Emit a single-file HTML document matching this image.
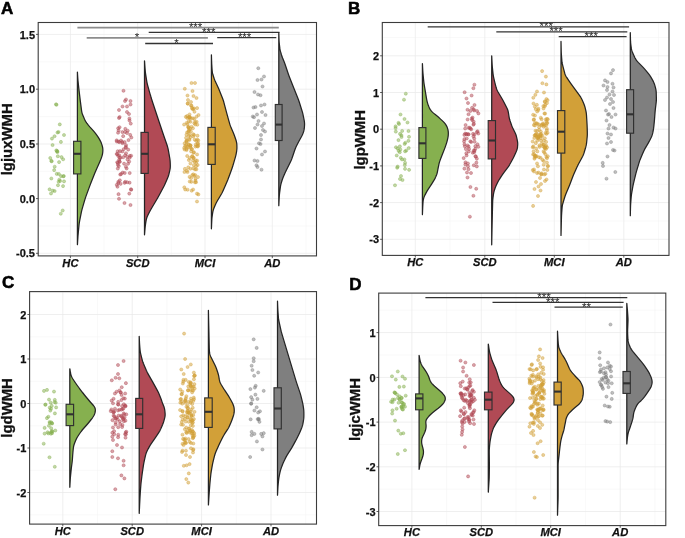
<!DOCTYPE html>
<html><head><meta charset="utf-8"><title>Figure</title>
<style>
html,body{margin:0;padding:0;background:#fff;}
body{width:685px;height:538px;overflow:hidden;font-family:"Liberation Sans",sans-serif;}
svg{display:block;will-change:transform;opacity:0.999;}
text{font-family:"Liberation Sans",sans-serif;font-weight:bold;fill:#111;}
.tk{font-size:11px;stroke:#111;stroke-width:0.25px;}
.cat{font-size:11.2px;font-style:italic;stroke:#111;stroke-width:0.25px;}
.yt{font-size:14.9px;stroke:#111;stroke-width:0.3px;}
.pl{font-size:17px;fill:#000;stroke:#000;stroke-width:0.55px;}
.st{font-weight:normal;font-size:11.5px;fill:#222;}
</style></head><body>
<svg width="685" height="538" viewBox="0 0 685 538">
<rect width="685" height="538" fill="#fff"/>
<g>
<rect x="38.2" y="22.5" width="278.3" height="233.4" fill="#fff"/>
<line x1="38.2" x2="316.5" y1="61.8" y2="61.8" stroke="#f2f2f2" stroke-width="0.5"/>
<line x1="38.2" x2="316.5" y1="116.6" y2="116.6" stroke="#f2f2f2" stroke-width="0.5"/>
<line x1="38.2" x2="316.5" y1="171.3" y2="171.3" stroke="#f2f2f2" stroke-width="0.5"/>
<line x1="38.2" x2="316.5" y1="226" y2="226" stroke="#f2f2f2" stroke-width="0.5"/>
<line x1="104.05" x2="104.05" y1="22.5" y2="255.9" stroke="#f2f2f2" stroke-width="0.5"/>
<line x1="171.35" x2="171.35" y1="22.5" y2="255.9" stroke="#f2f2f2" stroke-width="0.5"/>
<line x1="238.65" x2="238.65" y1="22.5" y2="255.9" stroke="#f2f2f2" stroke-width="0.5"/>
<line x1="305.95" x2="305.95" y1="22.5" y2="255.9" stroke="#f2f2f2" stroke-width="0.5"/>
<line x1="38.2" x2="316.5" y1="34.4" y2="34.4" stroke="#e9e9e9" stroke-width="0.75"/>
<line x1="38.2" x2="316.5" y1="89.2" y2="89.2" stroke="#e9e9e9" stroke-width="0.75"/>
<line x1="38.2" x2="316.5" y1="144" y2="144" stroke="#e9e9e9" stroke-width="0.75"/>
<line x1="38.2" x2="316.5" y1="198.6" y2="198.6" stroke="#e9e9e9" stroke-width="0.75"/>
<line x1="38.2" x2="316.5" y1="253.3" y2="253.3" stroke="#e9e9e9" stroke-width="0.75"/>
<line x1="70.4" x2="70.4" y1="22.5" y2="255.9" stroke="#e9e9e9" stroke-width="0.75"/>
<line x1="137.7" x2="137.7" y1="22.5" y2="255.9" stroke="#e9e9e9" stroke-width="0.75"/>
<line x1="205" x2="205" y1="22.5" y2="255.9" stroke="#e9e9e9" stroke-width="0.75"/>
<line x1="272.3" x2="272.3" y1="22.5" y2="255.9" stroke="#e9e9e9" stroke-width="0.75"/>
<line x1="77.4" x2="278.8" y1="27.6" y2="27.6" stroke="#8c8c8c" stroke-width="1.6"/>
<text x="195.6" y="31.1" text-anchor="middle" class="st">***</text>
<line x1="148.7" x2="279.5" y1="32.4" y2="32.4" stroke="#333333" stroke-width="1.3"/>
<text x="208.7" y="35.9" text-anchor="middle" class="st">***</text>
<line x1="217.2" x2="276.3" y1="37.7" y2="37.7" stroke="#333333" stroke-width="1.3"/>
<text x="244.6" y="41.2" text-anchor="middle" class="st">***</text>
<line x1="86.7" x2="207.9" y1="37.9" y2="37.9" stroke="#8c8c8c" stroke-width="1.6"/>
<text x="137" y="41.4" text-anchor="middle" class="st">*</text>
<line x1="145.2" x2="213" y1="43.5" y2="43.5" stroke="#333333" stroke-width="1.3"/>
<text x="176.5" y="47" text-anchor="middle" class="st">*</text>
<g fill="#86b04f" fill-opacity="0.5" stroke="#86b04f" stroke-opacity="0.7" stroke-width="0.55"><circle cx="56" cy="104.3" r="1.55"/><circle cx="56.5" cy="104.8" r="1.55"/><circle cx="59.8" cy="124.4" r="1.55"/><circle cx="58.5" cy="132" r="1.55"/><circle cx="57.5" cy="132.5" r="1.55"/><circle cx="64" cy="135" r="1.55"/><circle cx="62.7" cy="210.5" r="1.55"/><circle cx="60.8" cy="213.7" r="1.55"/><circle cx="51" cy="193.5" r="1.55"/><circle cx="61.06" cy="176.12" r="1.55"/><circle cx="60.08" cy="180.96" r="1.55"/><circle cx="61.5" cy="157.11" r="1.55"/><circle cx="56.34" cy="150.4" r="1.55"/><circle cx="50.22" cy="157.99" r="1.55"/><circle cx="54.53" cy="136.21" r="1.55"/><circle cx="52.56" cy="145.04" r="1.55"/><circle cx="54.71" cy="166.74" r="1.55"/><circle cx="58.89" cy="173.97" r="1.55"/><circle cx="63.84" cy="176.08" r="1.55"/><circle cx="57.83" cy="156.23" r="1.55"/><circle cx="51.36" cy="178.52" r="1.55"/><circle cx="49.58" cy="189.35" r="1.55"/><circle cx="57.99" cy="185.24" r="1.55"/><circle cx="63.21" cy="176.24" r="1.55"/><circle cx="59.07" cy="162.1" r="1.55"/><circle cx="63.04" cy="186.09" r="1.55"/><circle cx="64.03" cy="181.34" r="1.55"/><circle cx="58.64" cy="181.78" r="1.55"/><circle cx="57.11" cy="151.54" r="1.55"/><circle cx="57.42" cy="152.05" r="1.55"/><circle cx="54.65" cy="191.07" r="1.55"/><circle cx="56.75" cy="173.88" r="1.55"/><circle cx="60.92" cy="141.92" r="1.55"/><circle cx="59.27" cy="179.7" r="1.55"/><circle cx="63.14" cy="159.26" r="1.55"/><circle cx="57.2" cy="151" r="1.55"/><circle cx="51.71" cy="161.3" r="1.55"/><circle cx="51.97" cy="138.6" r="1.55"/><circle cx="51.32" cy="160.91" r="1.55"/><circle cx="52.79" cy="190.66" r="1.55"/><circle cx="54.15" cy="170.12" r="1.55"/></g>
<path d="M77.4 72.1L77.4 72.1L77.48 73.1L77.53 74.1L77.59 75.1L77.65 76.1L77.72 77.1L77.78 78.1L77.86 79.1L77.94 80.1L78.03 81.1L78.13 82.1L78.24 83.1L78.35 84.1L78.45 85.1L78.56 86.1L78.67 87.1L78.78 88.1L78.9 89.1L79.01 90.1L79.13 91.1L79.25 92.1L79.37 93.1L79.49 94.1L79.61 95.1L79.73 96.1L79.85 97.1L79.97 98.1L80.09 99.1L80.21 100.1L80.33 101.1L80.46 102.1L80.59 103.1L80.72 104.1L80.85 105.1L80.98 106.1L81.11 107.1L81.24 108.1L81.37 109.1L81.5 110.1L81.65 111.1L81.83 112.1L82.06 113.1L82.38 114.1L82.75 115.1L83.16 116.1L83.59 117.1L84.02 118.1L84.47 119.1L84.95 120.1L85.5 121.1L86.12 122.1L86.82 123.1L87.57 124.1L88.35 125.1L89.17 126.1L90.03 127.1L90.93 128.1L91.85 129.1L92.76 130.1L93.65 131.1L94.49 132.1L95.28 133.1L96.04 134.1L96.77 135.1L97.48 136.1L98.15 137.1L98.78 138.1L99.36 139.1L99.92 140.1L100.43 141.1L100.9 142.1L101.31 143.1L101.68 144.1L102.02 145.1L102.31 146.1L102.55 147.1L102.72 148.1L102.82 149.1L102.86 150.1L102.83 151.1L102.75 152.1L102.63 153.1L102.46 154.1L102.24 155.1L101.96 156.1L101.64 157.1L101.3 158.1L100.93 159.1L100.54 160.1L100.13 161.1L99.7 162.1L99.27 163.1L98.82 164.1L98.38 165.1L97.93 166.1L97.49 167.1L97.04 168.1L96.6 169.1L96.16 170.1L95.72 171.1L95.28 172.1L94.86 173.1L94.45 174.1L94.05 175.1L93.65 176.1L93.25 177.1L92.86 178.1L92.46 179.1L92.06 180.1L91.67 181.1L91.27 182.1L90.87 183.1L90.48 184.1L90.1 185.1L89.71 186.1L89.34 187.1L88.97 188.1L88.6 189.1L88.23 190.1L87.87 191.1L87.5 192.1L87.13 193.1L86.76 194.1L86.4 195.1L86.03 196.1L85.68 197.1L85.35 198.1L85.03 199.1L84.73 200.1L84.43 201.1L84.14 202.1L83.84 203.1L83.55 204.1L83.26 205.1L82.96 206.1L82.67 207.1L82.38 208.1L82.1 209.1L81.84 210.1L81.59 211.1L81.37 212.1L81.17 213.1L80.97 214.1L80.77 215.1L80.57 216.1L80.37 217.1L80.17 218.1L79.97 219.1L79.78 220.1L79.59 221.1L79.41 222.1L79.25 223.1L79.12 224.1L79.01 225.1L78.9 226.1L78.81 227.1L78.71 228.1L78.61 229.1L78.52 230.1L78.42 231.1L78.33 232.1L78.23 233.1L78.14 234.1L78.05 235.1L77.97 236.1L77.9 237.1L77.84 238.1L77.77 239.1L77.71 240.1L77.65 241.1L77.58 242.1L77.53 243.1L77.47 244.1L77.4 244.6L77.4 244.6Z" fill="#86b04f" stroke="#242424" stroke-width="1.25" stroke-linejoin="round"/>
<rect x="73.6" y="141.3" width="7.3" height="32.6" fill="#86b04f" stroke="#303030" stroke-width="1.15"/>
<line x1="73.6" x2="80.9" y1="153.8" y2="153.8" stroke="#303030" stroke-width="2.1"/>
<g fill="#b14a55" fill-opacity="0.5" stroke="#b14a55" stroke-opacity="0.7" stroke-width="0.55"><circle cx="123.5" cy="90.8" r="1.55"/><circle cx="126" cy="99.5" r="1.55"/><circle cx="125" cy="101" r="1.55"/><circle cx="130.5" cy="101" r="1.55"/><circle cx="122.5" cy="106.5" r="1.55"/><circle cx="127" cy="106.5" r="1.55"/><circle cx="130.5" cy="104.5" r="1.55"/><circle cx="119" cy="110" r="1.55"/><circle cx="127" cy="112" r="1.55"/><circle cx="129" cy="114" r="1.55"/><circle cx="119" cy="118" r="1.55"/><circle cx="129.5" cy="120.5" r="1.55"/><circle cx="119" cy="198.8" r="1.55"/><circle cx="124.5" cy="203" r="1.55"/><circle cx="130.5" cy="205" r="1.55"/><circle cx="127.73" cy="130.7" r="1.55"/><circle cx="125.02" cy="131.98" r="1.55"/><circle cx="118.21" cy="155.93" r="1.55"/><circle cx="119.39" cy="161.57" r="1.55"/><circle cx="119.64" cy="117.03" r="1.55"/><circle cx="122.35" cy="151.44" r="1.55"/><circle cx="127.2" cy="182.23" r="1.55"/><circle cx="125.78" cy="147.77" r="1.55"/><circle cx="124.68" cy="142.1" r="1.55"/><circle cx="127.01" cy="133.04" r="1.55"/><circle cx="129.59" cy="182.67" r="1.55"/><circle cx="120.23" cy="174.53" r="1.55"/><circle cx="117.92" cy="163.04" r="1.55"/><circle cx="118.35" cy="181.74" r="1.55"/><circle cx="117.5" cy="186.69" r="1.55"/><circle cx="124.61" cy="182.85" r="1.55"/><circle cx="123.61" cy="149.2" r="1.55"/><circle cx="119.41" cy="142.12" r="1.55"/><circle cx="125.2" cy="181.8" r="1.55"/><circle cx="119.63" cy="157.89" r="1.55"/><circle cx="122.69" cy="172.57" r="1.55"/><circle cx="131.21" cy="189.79" r="1.55"/><circle cx="122.51" cy="143.13" r="1.55"/><circle cx="119.36" cy="155.31" r="1.55"/><circle cx="120.57" cy="183.87" r="1.55"/><circle cx="120.57" cy="157.69" r="1.55"/><circle cx="131.38" cy="137.5" r="1.55"/><circle cx="116.65" cy="140.37" r="1.55"/><circle cx="117.7" cy="151.22" r="1.55"/><circle cx="125.9" cy="146.92" r="1.55"/><circle cx="129.3" cy="193.62" r="1.55"/><circle cx="126.61" cy="168.47" r="1.55"/><circle cx="123.16" cy="136.13" r="1.55"/><circle cx="131.15" cy="155.73" r="1.55"/><circle cx="116.84" cy="141.56" r="1.55"/><circle cx="128.51" cy="140.09" r="1.55"/><circle cx="118.65" cy="141.67" r="1.55"/><circle cx="127.53" cy="159.62" r="1.55"/><circle cx="127.05" cy="156.68" r="1.55"/><circle cx="122.23" cy="141.92" r="1.55"/><circle cx="123.2" cy="157.26" r="1.55"/><circle cx="129.14" cy="161.59" r="1.55"/><circle cx="124.74" cy="172.98" r="1.55"/><circle cx="125.99" cy="153.25" r="1.55"/><circle cx="118.54" cy="194.13" r="1.55"/><circle cx="118.17" cy="128.3" r="1.55"/><circle cx="121.01" cy="140.54" r="1.55"/><circle cx="119.85" cy="180.33" r="1.55"/><circle cx="122.4" cy="132.09" r="1.55"/><circle cx="129.41" cy="118.58" r="1.55"/><circle cx="117.81" cy="168.55" r="1.55"/><circle cx="116.8" cy="184.87" r="1.55"/><circle cx="118.81" cy="166.11" r="1.55"/><circle cx="125.88" cy="166.79" r="1.55"/><circle cx="117.93" cy="164.93" r="1.55"/><circle cx="118.61" cy="130.48" r="1.55"/><circle cx="119.05" cy="159.94" r="1.55"/><circle cx="130.75" cy="123.61" r="1.55"/><circle cx="129.83" cy="155.88" r="1.55"/><circle cx="118.06" cy="132.69" r="1.55"/><circle cx="118.24" cy="183.1" r="1.55"/><circle cx="130.22" cy="134.92" r="1.55"/><circle cx="128.2" cy="149.62" r="1.55"/><circle cx="116.71" cy="153.98" r="1.55"/><circle cx="124.1" cy="163.66" r="1.55"/><circle cx="125.96" cy="145.17" r="1.55"/><circle cx="117.28" cy="154.01" r="1.55"/><circle cx="119.55" cy="127.21" r="1.55"/><circle cx="117.21" cy="162.27" r="1.55"/><circle cx="125.32" cy="128.89" r="1.55"/><circle cx="130.94" cy="189.2" r="1.55"/><circle cx="128.01" cy="163.82" r="1.55"/><circle cx="125.18" cy="155.22" r="1.55"/><circle cx="119.99" cy="151.16" r="1.55"/><circle cx="119.84" cy="161.84" r="1.55"/><circle cx="129.7" cy="157.67" r="1.55"/><circle cx="121.1" cy="174" r="1.55"/><circle cx="129.72" cy="173.04" r="1.55"/></g>
<path d="M144.5 60.8L144.5 60.8L144.59 61.8L144.65 62.8L144.72 63.8L144.79 64.8L144.86 65.8L144.93 66.8L145 67.8L145.07 68.8L145.15 69.8L145.23 70.8L145.33 71.8L145.45 72.8L145.59 73.8L145.74 74.8L145.89 75.8L146.05 76.8L146.2 77.8L146.36 78.8L146.52 79.8L146.68 80.8L146.86 81.8L147.05 82.8L147.28 83.8L147.53 84.8L147.8 85.8L148.07 86.8L148.35 87.8L148.62 88.8L148.9 89.8L149.17 90.8L149.46 91.8L149.74 92.8L150.03 93.8L150.32 94.8L150.62 95.8L150.91 96.8L151.21 97.8L151.5 98.8L151.81 99.8L152.12 100.8L152.44 101.8L152.76 102.8L153.09 103.8L153.43 104.8L153.76 105.8L154.09 106.8L154.42 107.8L154.75 108.8L155.08 109.8L155.41 110.8L155.75 111.8L156.08 112.8L156.41 113.8L156.74 114.8L157.07 115.8L157.4 116.8L157.74 117.8L158.07 118.8L158.4 119.8L158.74 120.8L159.07 121.8L159.41 122.8L159.75 123.8L160.08 124.8L160.42 125.8L160.75 126.8L161.09 127.8L161.42 128.8L161.76 129.8L162.09 130.8L162.43 131.8L162.77 132.8L163.1 133.8L163.45 134.8L163.79 135.8L164.14 136.8L164.48 137.8L164.83 138.8L165.18 139.8L165.53 140.8L165.88 141.8L166.23 142.8L166.57 143.8L166.92 144.8L167.25 145.8L167.57 146.8L167.84 147.8L168.08 148.8L168.28 149.8L168.47 150.8L168.64 151.8L168.82 152.8L169 153.8L169.18 154.8L169.35 155.8L169.53 156.8L169.7 157.8L169.86 158.8L169.99 159.8L170.09 160.8L170.16 161.8L170.21 162.8L170.25 163.8L170.28 164.8L170.3 165.8L170.29 166.8L170.22 167.8L170.09 168.8L169.9 169.8L169.69 170.8L169.46 171.8L169.23 172.8L168.99 173.8L168.73 174.8L168.44 175.8L168.09 176.8L167.7 177.8L167.29 178.8L166.86 179.8L166.44 180.8L166 181.8L165.57 182.8L165.13 183.8L164.67 184.8L164.19 185.8L163.68 186.8L163.16 187.8L162.62 188.8L162.09 189.8L161.55 190.8L161.02 191.8L160.48 192.8L159.94 193.8L159.41 194.8L158.87 195.8L158.32 196.8L157.76 197.8L157.19 198.8L156.6 199.8L156.01 200.8L155.42 201.8L154.82 202.8L154.23 203.8L153.63 204.8L153.04 205.8L152.44 206.8L151.85 207.8L151.27 208.8L150.69 209.8L150.14 210.8L149.62 211.8L149.1 212.8L148.6 213.8L148.1 214.8L147.62 215.8L147.17 216.8L146.79 217.8L146.48 218.8L146.25 219.8L146.06 220.8L145.89 221.8L145.73 222.8L145.58 223.8L145.44 224.8L145.31 225.8L145.2 226.8L145.11 227.8L145.02 228.8L144.94 229.8L144.85 230.8L144.77 231.8L144.69 232.8L144.62 233.8L144.5 234.8L144.5 234.8Z" fill="#b14a55" stroke="#242424" stroke-width="1.25" stroke-linejoin="round"/>
<rect x="141" y="132.4" width="7.2" height="41" fill="#b14a55" stroke="#303030" stroke-width="1.15"/>
<line x1="141" x2="148.2" y1="153.8" y2="153.8" stroke="#303030" stroke-width="2.1"/>
<g fill="#d2a038" fill-opacity="0.5" stroke="#d2a038" stroke-opacity="0.7" stroke-width="0.55"><circle cx="191.5" cy="83" r="1.55"/><circle cx="195" cy="83" r="1.55"/><circle cx="184.8" cy="88.8" r="1.55"/><circle cx="192.5" cy="91" r="1.55"/><circle cx="187.5" cy="95.5" r="1.55"/><circle cx="193.5" cy="96" r="1.55"/><circle cx="196.5" cy="98" r="1.55"/><circle cx="188" cy="100" r="1.55"/><circle cx="191" cy="102" r="1.55"/><circle cx="197" cy="201.5" r="1.55"/><circle cx="186.78" cy="122.82" r="1.55"/><circle cx="195.11" cy="169.39" r="1.55"/><circle cx="192.98" cy="160.49" r="1.55"/><circle cx="185.19" cy="189.51" r="1.55"/><circle cx="188.57" cy="127.21" r="1.55"/><circle cx="193.66" cy="152.79" r="1.55"/><circle cx="190.43" cy="168.69" r="1.55"/><circle cx="197.18" cy="146.22" r="1.55"/><circle cx="186.35" cy="140.63" r="1.55"/><circle cx="184.61" cy="143.33" r="1.55"/><circle cx="184.11" cy="124.56" r="1.55"/><circle cx="189.53" cy="114.43" r="1.55"/><circle cx="186.82" cy="146.56" r="1.55"/><circle cx="187.15" cy="155.99" r="1.55"/><circle cx="188.26" cy="167.37" r="1.55"/><circle cx="187.77" cy="103.66" r="1.55"/><circle cx="196.42" cy="169.25" r="1.55"/><circle cx="186.55" cy="150.06" r="1.55"/><circle cx="189.11" cy="139.04" r="1.55"/><circle cx="186.46" cy="134.73" r="1.55"/><circle cx="195.22" cy="124.53" r="1.55"/><circle cx="191.51" cy="126.73" r="1.55"/><circle cx="196.16" cy="140.86" r="1.55"/><circle cx="184.57" cy="149.55" r="1.55"/><circle cx="195.46" cy="146.61" r="1.55"/><circle cx="187.74" cy="103.43" r="1.55"/><circle cx="194.45" cy="111.78" r="1.55"/><circle cx="188.18" cy="126.75" r="1.55"/><circle cx="197.32" cy="124.73" r="1.55"/><circle cx="194.7" cy="161.93" r="1.55"/><circle cx="192.96" cy="118.31" r="1.55"/><circle cx="187.58" cy="189.69" r="1.55"/><circle cx="187.07" cy="132.4" r="1.55"/><circle cx="185.12" cy="146.08" r="1.55"/><circle cx="196.03" cy="182.25" r="1.55"/><circle cx="196.1" cy="166.15" r="1.55"/><circle cx="188.86" cy="160.04" r="1.55"/><circle cx="190.9" cy="131.46" r="1.55"/><circle cx="194" cy="108.34" r="1.55"/><circle cx="191.38" cy="181.83" r="1.55"/><circle cx="196.49" cy="116.69" r="1.55"/><circle cx="198.2" cy="145.28" r="1.55"/><circle cx="189.85" cy="116.95" r="1.55"/><circle cx="197.67" cy="165.01" r="1.55"/><circle cx="194.09" cy="134.99" r="1.55"/><circle cx="193.1" cy="189.52" r="1.55"/><circle cx="198" cy="177.05" r="1.55"/><circle cx="195.16" cy="122" r="1.55"/><circle cx="192.02" cy="149.16" r="1.55"/><circle cx="193.92" cy="152.17" r="1.55"/><circle cx="197.19" cy="139.63" r="1.55"/><circle cx="191.11" cy="151.4" r="1.55"/><circle cx="193.47" cy="157.92" r="1.55"/><circle cx="188.91" cy="121.01" r="1.55"/><circle cx="194.3" cy="118.93" r="1.55"/><circle cx="189.73" cy="181.55" r="1.55"/><circle cx="198.05" cy="143.35" r="1.55"/><circle cx="196.17" cy="162.98" r="1.55"/><circle cx="195.46" cy="180.65" r="1.55"/><circle cx="190.52" cy="145.38" r="1.55"/><circle cx="190.14" cy="147.65" r="1.55"/><circle cx="190.53" cy="145.64" r="1.55"/><circle cx="186.87" cy="141.06" r="1.55"/><circle cx="190.49" cy="121.8" r="1.55"/><circle cx="196.68" cy="121.86" r="1.55"/><circle cx="190.86" cy="118.23" r="1.55"/><circle cx="189.65" cy="157.97" r="1.55"/><circle cx="184.36" cy="187.31" r="1.55"/><circle cx="193.27" cy="134.18" r="1.55"/><circle cx="197.1" cy="154.47" r="1.55"/><circle cx="186.07" cy="137.85" r="1.55"/><circle cx="187.48" cy="172.07" r="1.55"/><circle cx="188.48" cy="127.76" r="1.55"/><circle cx="191.6" cy="149.06" r="1.55"/><circle cx="194.31" cy="123.22" r="1.55"/><circle cx="193.82" cy="165.2" r="1.55"/><circle cx="195.28" cy="175.09" r="1.55"/><circle cx="184.47" cy="172" r="1.55"/><circle cx="190.21" cy="145.88" r="1.55"/><circle cx="189.54" cy="139.91" r="1.55"/><circle cx="193.72" cy="157.7" r="1.55"/><circle cx="187.87" cy="147.5" r="1.55"/><circle cx="192.93" cy="128.25" r="1.55"/><circle cx="197.56" cy="143.86" r="1.55"/><circle cx="197.89" cy="146.47" r="1.55"/><circle cx="189.08" cy="117.33" r="1.55"/><circle cx="198.28" cy="140.42" r="1.55"/><circle cx="189.61" cy="176.92" r="1.55"/><circle cx="193.23" cy="136.47" r="1.55"/><circle cx="195" cy="182.31" r="1.55"/><circle cx="189.97" cy="134.71" r="1.55"/><circle cx="191.17" cy="178.05" r="1.55"/><circle cx="184.16" cy="147.92" r="1.55"/><circle cx="189.68" cy="117.76" r="1.55"/><circle cx="187.04" cy="116.01" r="1.55"/><circle cx="186.34" cy="141.85" r="1.55"/><circle cx="191.65" cy="190.69" r="1.55"/><circle cx="195.83" cy="160.41" r="1.55"/><circle cx="195.52" cy="178.81" r="1.55"/><circle cx="197.09" cy="108.08" r="1.55"/><circle cx="196.99" cy="193.64" r="1.55"/><circle cx="189.05" cy="117.39" r="1.55"/><circle cx="195.79" cy="144.61" r="1.55"/><circle cx="192.33" cy="175.04" r="1.55"/><circle cx="191.51" cy="105.67" r="1.55"/><circle cx="193.35" cy="168.4" r="1.55"/><circle cx="197.54" cy="135.66" r="1.55"/><circle cx="188.5" cy="144.3" r="1.55"/><circle cx="190.41" cy="163.44" r="1.55"/><circle cx="187.51" cy="124.16" r="1.55"/><circle cx="186.12" cy="144.96" r="1.55"/><circle cx="189.11" cy="129.7" r="1.55"/><circle cx="186.5" cy="149.03" r="1.55"/><circle cx="187.33" cy="118.01" r="1.55"/><circle cx="198.49" cy="115.03" r="1.55"/><circle cx="188.35" cy="132.03" r="1.55"/><circle cx="192.39" cy="108.88" r="1.55"/><circle cx="188.91" cy="130.92" r="1.55"/><circle cx="192.13" cy="156.64" r="1.55"/><circle cx="190.99" cy="105.48" r="1.55"/><circle cx="194.65" cy="139.63" r="1.55"/><circle cx="194.29" cy="176.05" r="1.55"/><circle cx="198.38" cy="194.38" r="1.55"/><circle cx="188.76" cy="144.46" r="1.55"/><circle cx="190.17" cy="128.79" r="1.55"/><circle cx="185.81" cy="116.87" r="1.55"/><circle cx="186.9" cy="170.65" r="1.55"/><circle cx="184.89" cy="168.9" r="1.55"/><circle cx="190.59" cy="137.09" r="1.55"/><circle cx="193.26" cy="109.11" r="1.55"/><circle cx="188.86" cy="135.74" r="1.55"/><circle cx="193.34" cy="174.32" r="1.55"/><circle cx="191.96" cy="107.91" r="1.55"/><circle cx="192.24" cy="156.17" r="1.55"/><circle cx="197.18" cy="160.69" r="1.55"/></g>
<path d="M211.4 54.8L211.4 54.8L211.44 55.8L211.47 56.8L211.5 57.8L211.53 58.8L211.56 59.8L211.6 60.8L211.63 61.8L211.67 62.8L211.71 63.8L211.77 64.8L211.83 65.8L211.89 66.8L211.96 67.8L212.02 68.8L212.1 69.8L212.18 70.8L212.29 71.8L212.44 72.8L212.67 73.8L212.94 74.8L213.25 75.8L213.57 76.8L213.9 77.8L214.24 78.8L214.62 79.8L215.03 80.8L215.47 81.8L215.93 82.8L216.41 83.8L216.88 84.8L217.35 85.8L217.81 86.8L218.26 87.8L218.7 88.8L219.11 89.8L219.52 90.8L219.92 91.8L220.32 92.8L220.72 93.8L221.12 94.8L221.52 95.8L221.92 96.8L222.32 97.8L222.7 98.8L223.07 99.8L223.41 100.8L223.72 101.8L224 102.8L224.27 103.8L224.53 104.8L224.8 105.8L225.06 106.8L225.33 107.8L225.59 108.8L225.86 109.8L226.12 110.8L226.39 111.8L226.65 112.8L226.93 113.8L227.2 114.8L227.48 115.8L227.76 116.8L228.03 117.8L228.31 118.8L228.59 119.8L228.87 120.8L229.15 121.8L229.43 122.8L229.72 123.8L230.03 124.8L230.37 125.8L230.75 126.8L231.16 127.8L231.58 128.8L232.01 129.8L232.44 130.8L232.87 131.8L233.3 132.8L233.71 133.8L234.1 134.8L234.47 135.8L234.83 136.8L235.17 137.8L235.52 138.8L235.86 139.8L236.17 140.8L236.45 141.8L236.65 142.8L236.78 143.8L236.85 144.8L236.9 145.8L236.92 146.8L236.92 147.8L236.89 148.8L236.8 149.8L236.68 150.8L236.53 151.8L236.36 152.8L236.17 153.8L235.97 154.8L235.73 155.8L235.46 156.8L235.18 157.8L234.89 158.8L234.6 159.8L234.31 160.8L234.02 161.8L233.73 162.8L233.44 163.8L233.14 164.8L232.85 165.8L232.54 166.8L232.22 167.8L231.88 168.8L231.52 169.8L231.16 170.8L230.79 171.8L230.42 172.8L230.06 173.8L229.69 174.8L229.32 175.8L228.95 176.8L228.58 177.8L228.2 178.8L227.82 179.8L227.41 180.8L226.99 181.8L226.56 182.8L226.13 183.8L225.69 184.8L225.26 185.8L224.82 186.8L224.38 187.8L223.95 188.8L223.51 189.8L223.06 190.8L222.59 191.8L222.1 192.8L221.56 193.8L220.99 194.8L220.4 195.8L219.8 196.8L219.2 197.8L218.6 198.8L218 199.8L217.41 200.8L216.85 201.8L216.31 202.8L215.82 203.8L215.37 204.8L214.94 205.8L214.52 206.8L214.1 207.8L213.71 208.8L213.36 209.8L213.07 210.8L212.84 211.8L212.67 212.8L212.51 213.8L212.36 214.8L212.22 215.8L212.09 216.8L211.98 217.8L211.9 218.8L211.83 219.8L211.78 220.8L211.73 221.8L211.69 222.8L211.64 223.8L211.6 224.8L211.55 225.8L211.51 226.8L211.47 227.8L211.4 228.8L211.4 228.8Z" fill="#d2a038" stroke="#242424" stroke-width="1.25" stroke-linejoin="round"/>
<rect x="207.9" y="127.4" width="7.3" height="37" fill="#d2a038" stroke="#303030" stroke-width="1.15"/>
<line x1="207.9" x2="215.2" y1="144.3" y2="144.3" stroke="#303030" stroke-width="2.1"/>
<g fill="#7f7f7f" fill-opacity="0.5" stroke="#7f7f7f" stroke-opacity="0.7" stroke-width="0.55"><circle cx="258.3" cy="68.2" r="1.55"/><circle cx="264" cy="76.5" r="1.55"/><circle cx="257.5" cy="80" r="1.55"/><circle cx="261.5" cy="79.5" r="1.55"/><circle cx="262.5" cy="86.5" r="1.55"/><circle cx="254.5" cy="92" r="1.55"/><circle cx="258" cy="94.5" r="1.55"/><circle cx="260.5" cy="95.2" r="1.55"/><circle cx="264.5" cy="104.5" r="1.55"/><circle cx="261" cy="105.5" r="1.55"/><circle cx="255.5" cy="107" r="1.55"/><circle cx="253.5" cy="107.5" r="1.55"/><circle cx="257" cy="114.5" r="1.55"/><circle cx="252.8" cy="116.5" r="1.55"/><circle cx="254" cy="117.2" r="1.55"/><circle cx="265.5" cy="115" r="1.55"/><circle cx="264" cy="123.5" r="1.55"/><circle cx="257.5" cy="124.5" r="1.55"/><circle cx="262" cy="126" r="1.55"/><circle cx="255" cy="128" r="1.55"/><circle cx="263" cy="130" r="1.55"/><circle cx="265" cy="131.5" r="1.55"/><circle cx="261" cy="135" r="1.55"/><circle cx="259" cy="143.3" r="1.55"/><circle cx="260.5" cy="144" r="1.55"/><circle cx="265" cy="151.5" r="1.55"/><circle cx="262" cy="154.5" r="1.55"/><circle cx="254.5" cy="160.5" r="1.55"/><circle cx="257.5" cy="161" r="1.55"/><circle cx="256.5" cy="165.3" r="1.55"/><circle cx="261.5" cy="169.7" r="1.55"/><circle cx="257.5" cy="167" r="1.55"/><circle cx="262" cy="112" r="1.55"/><circle cx="258.5" cy="121" r="1.55"/><circle cx="261" cy="139.5" r="1.55"/><circle cx="256.5" cy="148.5" r="1.55"/></g>
<path d="M278.8 32.7L278.8 32.7L278.84 33.7L278.87 34.7L278.9 35.7L278.93 36.7L278.96 37.7L278.99 38.7L279.03 39.7L279.07 40.7L279.13 41.7L279.22 42.7L279.32 43.7L279.43 44.7L279.55 45.7L279.67 46.7L279.79 47.7L279.93 48.7L280.1 49.7L280.3 50.7L280.55 51.7L280.83 52.7L281.12 53.7L281.43 54.7L281.77 55.7L282.13 56.7L282.51 57.7L282.92 58.7L283.32 59.7L283.73 60.7L284.13 61.7L284.51 62.7L284.88 63.7L285.23 64.7L285.56 65.7L285.9 66.7L286.23 67.7L286.57 68.7L286.9 69.7L287.23 70.7L287.57 71.7L287.9 72.7L288.24 73.7L288.59 74.7L288.95 75.7L289.33 76.7L289.72 77.7L290.11 78.7L290.51 79.7L290.9 80.7L291.3 81.7L291.7 82.7L292.09 83.7L292.49 84.7L292.89 85.7L293.28 86.7L293.68 87.7L294.08 88.7L294.48 89.7L294.88 90.7L295.28 91.7L295.68 92.7L296.08 93.7L296.48 94.7L296.88 95.7L297.28 96.7L297.68 97.7L298.07 98.7L298.45 99.7L298.81 100.7L299.16 101.7L299.48 102.7L299.8 103.7L300.11 104.7L300.42 105.7L300.73 106.7L301.05 107.7L301.36 108.7L301.67 109.7L301.98 110.7L302.27 111.7L302.55 112.7L302.8 113.7L303.03 114.7L303.24 115.7L303.44 116.7L303.64 117.7L303.84 118.7L304.04 119.7L304.23 120.7L304.39 121.7L304.5 122.7L304.55 123.7L304.55 124.7L304.5 125.7L304.43 126.7L304.35 127.7L304.24 128.7L304.08 129.7L303.85 130.7L303.55 131.7L303.21 132.7L302.83 133.7L302.4 134.7L301.93 135.7L301.41 136.7L300.86 137.7L300.3 138.7L299.75 139.7L299.2 140.7L298.66 141.7L298.13 142.7L297.61 143.7L297.1 144.7L296.6 145.7L296.11 146.7L295.67 147.7L295.27 148.7L294.9 149.7L294.55 150.7L294.21 151.7L293.87 152.7L293.53 153.7L293.2 154.7L292.86 155.7L292.52 156.7L292.17 157.7L291.81 158.7L291.42 159.7L291 160.7L290.54 161.7L290.06 162.7L289.56 163.7L289.07 164.7L288.57 165.7L288.08 166.7L287.58 167.7L287.08 168.7L286.59 169.7L286.1 170.7L285.61 171.7L285.14 172.7L284.69 173.7L284.25 174.7L283.82 175.7L283.39 176.7L282.98 177.7L282.6 178.7L282.25 179.7L281.93 180.7L281.63 181.7L281.35 182.7L281.08 183.7L280.83 184.7L280.62 185.7L280.44 186.7L280.3 187.7L280.16 188.7L280.03 189.7L279.9 190.7L279.77 191.7L279.64 192.7L279.52 193.7L279.41 194.7L279.32 195.7L279.25 196.7L279.19 197.7L279.14 198.7L279.1 199.7L279.05 200.7L279 201.7L278.96 202.7L278.91 203.7L278.87 204.7L278.8 205.7L278.8 205.7Z" fill="#7f7f7f" stroke="#242424" stroke-width="1.25" stroke-linejoin="round"/>
<rect x="275.3" y="104.5" width="6.8" height="36" fill="#7f7f7f" stroke="#303030" stroke-width="1.15"/>
<line x1="275.3" x2="282.1" y1="124.6" y2="124.6" stroke="#303030" stroke-width="2.1"/>
<rect x="38.2" y="22.5" width="278.3" height="233.4" fill="none" stroke="#3c3c3c" stroke-width="1.1"/>
<line x1="36" x2="38.2" y1="34.4" y2="34.4" stroke="#333" stroke-width="0.8"/>
<text x="35" y="38.5" text-anchor="end" class="tk">1.5</text>
<line x1="36" x2="38.2" y1="89.2" y2="89.2" stroke="#333" stroke-width="0.8"/>
<text x="35" y="93.3" text-anchor="end" class="tk">1.0</text>
<line x1="36" x2="38.2" y1="144" y2="144" stroke="#333" stroke-width="0.8"/>
<text x="35" y="148.1" text-anchor="end" class="tk">0.5</text>
<line x1="36" x2="38.2" y1="198.6" y2="198.6" stroke="#333" stroke-width="0.8"/>
<text x="35" y="202.7" text-anchor="end" class="tk">0.0</text>
<line x1="36" x2="38.2" y1="253.3" y2="253.3" stroke="#333" stroke-width="0.8"/>
<text x="35" y="257.4" text-anchor="end" class="tk">-0.5</text>
<line x1="70.4" x2="70.4" y1="255.9" y2="258.1" stroke="#333" stroke-width="0.8"/>
<text x="70.4" y="266.7" text-anchor="middle" class="cat">HC</text>
<line x1="137.7" x2="137.7" y1="255.9" y2="258.1" stroke="#333" stroke-width="0.8"/>
<text x="137.7" y="266.7" text-anchor="middle" class="cat">SCD</text>
<line x1="205" x2="205" y1="255.9" y2="258.1" stroke="#333" stroke-width="0.8"/>
<text x="205" y="266.7" text-anchor="middle" class="cat">MCI</text>
<line x1="272.3" x2="272.3" y1="255.9" y2="258.1" stroke="#333" stroke-width="0.8"/>
<text x="272.3" y="266.7" text-anchor="middle" class="cat">AD</text>
<text transform="translate(12 139.3) rotate(-90)" text-anchor="middle" class="yt">lgjuxWMH</text>
<text x="0.9" y="13.7" class="pl">A</text>
</g>
<g>
<rect x="382.3" y="22.5" width="286.7" height="232.9" fill="#fff"/>
<line x1="382.3" x2="669" y1="37.5" y2="37.5" stroke="#f2f2f2" stroke-width="0.5"/>
<line x1="382.3" x2="669" y1="74.2" y2="74.2" stroke="#f2f2f2" stroke-width="0.5"/>
<line x1="382.3" x2="669" y1="110.9" y2="110.9" stroke="#f2f2f2" stroke-width="0.5"/>
<line x1="382.3" x2="669" y1="147.6" y2="147.6" stroke="#f2f2f2" stroke-width="0.5"/>
<line x1="382.3" x2="669" y1="184.3" y2="184.3" stroke="#f2f2f2" stroke-width="0.5"/>
<line x1="382.3" x2="669" y1="221" y2="221" stroke="#f2f2f2" stroke-width="0.5"/>
<line x1="450.05" x2="450.05" y1="22.5" y2="255.4" stroke="#f2f2f2" stroke-width="0.5"/>
<line x1="519.55" x2="519.55" y1="22.5" y2="255.4" stroke="#f2f2f2" stroke-width="0.5"/>
<line x1="589.05" x2="589.05" y1="22.5" y2="255.4" stroke="#f2f2f2" stroke-width="0.5"/>
<line x1="658.55" x2="658.55" y1="22.5" y2="255.4" stroke="#f2f2f2" stroke-width="0.5"/>
<line x1="382.3" x2="669" y1="55.8" y2="55.8" stroke="#e9e9e9" stroke-width="0.75"/>
<line x1="382.3" x2="669" y1="92.5" y2="92.5" stroke="#e9e9e9" stroke-width="0.75"/>
<line x1="382.3" x2="669" y1="129.2" y2="129.2" stroke="#e9e9e9" stroke-width="0.75"/>
<line x1="382.3" x2="669" y1="165.9" y2="165.9" stroke="#e9e9e9" stroke-width="0.75"/>
<line x1="382.3" x2="669" y1="202.6" y2="202.6" stroke="#e9e9e9" stroke-width="0.75"/>
<line x1="382.3" x2="669" y1="239.3" y2="239.3" stroke="#e9e9e9" stroke-width="0.75"/>
<line x1="415.3" x2="415.3" y1="22.5" y2="255.4" stroke="#e9e9e9" stroke-width="0.75"/>
<line x1="484.8" x2="484.8" y1="22.5" y2="255.4" stroke="#e9e9e9" stroke-width="0.75"/>
<line x1="554.3" x2="554.3" y1="22.5" y2="255.4" stroke="#e9e9e9" stroke-width="0.75"/>
<line x1="623.8" x2="623.8" y1="22.5" y2="255.4" stroke="#e9e9e9" stroke-width="0.75"/>
<line x1="427.7" x2="629.1" y1="26.9" y2="26.9" stroke="#333333" stroke-width="1.3"/>
<text x="546.3" y="30.4" text-anchor="middle" class="st">***</text>
<line x1="496.3" x2="627.3" y1="31.9" y2="31.9" stroke="#333333" stroke-width="1.3"/>
<text x="556.1" y="35.4" text-anchor="middle" class="st">***</text>
<line x1="558.7" x2="626.6" y1="36.7" y2="36.7" stroke="#333333" stroke-width="1.3"/>
<text x="591.2" y="40.2" text-anchor="middle" class="st">***</text>
<g fill="#86b04f" fill-opacity="0.5" stroke="#86b04f" stroke-opacity="0.7" stroke-width="0.55"><circle cx="405.8" cy="93.7" r="1.55"/><circle cx="404" cy="99.7" r="1.55"/><circle cx="400.5" cy="114.5" r="1.55"/><circle cx="404.5" cy="119" r="1.55"/><circle cx="407.5" cy="122.5" r="1.55"/><circle cx="399" cy="124" r="1.55"/><circle cx="408.5" cy="131" r="1.55"/><circle cx="395" cy="185.3" r="1.55"/><circle cx="402.5" cy="180" r="1.55"/><circle cx="401" cy="176" r="1.55"/><circle cx="400" cy="179" r="1.55"/><circle cx="409.01" cy="136.81" r="1.55"/><circle cx="408.44" cy="140.86" r="1.55"/><circle cx="398.5" cy="122.89" r="1.55"/><circle cx="398.6" cy="150.84" r="1.55"/><circle cx="398.47" cy="140.11" r="1.55"/><circle cx="409.1" cy="169.85" r="1.55"/><circle cx="396.74" cy="155.48" r="1.55"/><circle cx="406.28" cy="150.49" r="1.55"/><circle cx="400.06" cy="133.92" r="1.55"/><circle cx="404.42" cy="159.44" r="1.55"/><circle cx="401.52" cy="137" r="1.55"/><circle cx="399.76" cy="152.21" r="1.55"/><circle cx="405.02" cy="168.86" r="1.55"/><circle cx="404.81" cy="165.11" r="1.55"/><circle cx="400.81" cy="157.85" r="1.55"/><circle cx="401.42" cy="135.21" r="1.55"/><circle cx="395.59" cy="126.36" r="1.55"/><circle cx="402" cy="159.43" r="1.55"/><circle cx="395.81" cy="131.62" r="1.55"/><circle cx="405.36" cy="142.78" r="1.55"/><circle cx="397.65" cy="166.59" r="1.55"/><circle cx="395.98" cy="147.22" r="1.55"/><circle cx="397.61" cy="148.48" r="1.55"/><circle cx="405.09" cy="151.35" r="1.55"/><circle cx="404.63" cy="143.93" r="1.55"/><circle cx="402.15" cy="130.95" r="1.55"/><circle cx="399.86" cy="146.32" r="1.55"/><circle cx="405.07" cy="162.79" r="1.55"/><circle cx="395.58" cy="128.12" r="1.55"/><circle cx="400.34" cy="149.52" r="1.55"/><circle cx="408.75" cy="148.06" r="1.55"/><circle cx="397.16" cy="167.7" r="1.55"/></g>
<path d="M422.4 63.6L422.4 63.6L422.47 64.6L422.51 65.6L422.56 66.6L422.62 67.6L422.67 68.6L422.72 69.6L422.78 70.6L422.84 71.6L422.91 72.6L422.99 73.6L423.08 74.6L423.17 75.6L423.27 76.6L423.37 77.6L423.47 78.6L423.57 79.6L423.67 80.6L423.78 81.6L423.9 82.6L424.04 83.6L424.19 84.6L424.36 85.6L424.52 86.6L424.69 87.6L424.86 88.6L425.03 89.6L425.2 90.6L425.36 91.6L425.53 92.6L425.7 93.6L425.86 94.6L426.03 95.6L426.19 96.6L426.36 97.6L426.53 98.6L426.71 99.6L426.92 100.6L427.15 101.6L427.42 102.6L427.71 103.6L428.03 104.6L428.38 105.6L428.79 106.6L429.25 107.6L429.76 108.6L430.34 109.6L431.04 110.6L431.91 111.6L432.94 112.6L434.09 113.6L435.29 114.6L436.5 115.6L437.7 116.6L438.87 117.6L440 118.6L441.12 119.6L442.21 120.6L443.26 121.6L444.23 122.6L445.07 123.6L445.77 124.6L446.35 125.6L446.85 126.6L447.27 127.6L447.62 128.6L447.9 129.6L448.11 130.6L448.24 131.6L448.31 132.6L448.33 133.6L448.29 134.6L448.22 135.6L448.09 136.6L447.91 137.6L447.71 138.6L447.48 139.6L447.24 140.6L446.98 141.6L446.69 142.6L446.38 143.6L446.05 144.6L445.71 145.6L445.36 146.6L445 147.6L444.63 148.6L444.25 149.6L443.86 150.6L443.48 151.6L443.09 152.6L442.7 153.6L442.31 154.6L441.92 155.6L441.53 156.6L441.14 157.6L440.75 158.6L440.36 159.6L439.99 160.6L439.64 161.6L439.33 162.6L439.07 163.6L438.84 164.6L438.63 165.6L438.43 166.6L438.23 167.6L438.03 168.6L437.83 169.6L437.65 170.6L437.45 171.6L437.25 172.6L437 173.6L436.69 174.6L436.31 175.6L435.88 176.6L435.41 177.6L434.9 178.6L434.34 179.6L433.75 180.6L433.15 181.6L432.53 182.6L431.9 183.6L431.26 184.6L430.61 185.6L429.94 186.6L429.27 187.6L428.6 188.6L427.96 189.6L427.34 190.6L426.77 191.6L426.23 192.6L425.7 193.6L425.2 194.6L424.72 195.6L424.27 196.6L423.89 197.6L423.58 198.6L423.34 199.6L423.18 200.6L423.07 201.6L422.99 202.6L422.92 203.6L422.86 204.6L422.8 205.6L422.75 206.6L422.71 207.6L422.67 208.6L422.62 209.6L422.58 210.6L422.54 211.6L422.5 212.6L422.46 213.6L422.4 214.6L422.4 214.6Z" fill="#86b04f" stroke="#242424" stroke-width="1.25" stroke-linejoin="round"/>
<rect x="418.9" y="127.6" width="7" height="30.8" fill="#86b04f" stroke="#303030" stroke-width="1.15"/>
<line x1="418.9" x2="425.9" y1="143.3" y2="143.3" stroke="#303030" stroke-width="2.1"/>
<g fill="#b14a55" fill-opacity="0.5" stroke="#b14a55" stroke-opacity="0.7" stroke-width="0.55"><circle cx="474.4" cy="84.7" r="1.55"/><circle cx="473.4" cy="88.2" r="1.55"/><circle cx="464.6" cy="92.2" r="1.55"/><circle cx="471.6" cy="95.5" r="1.55"/><circle cx="466.5" cy="98.5" r="1.55"/><circle cx="468" cy="103" r="1.55"/><circle cx="474.5" cy="105" r="1.55"/><circle cx="470.4" cy="187" r="1.55"/><circle cx="476.2" cy="188.8" r="1.55"/><circle cx="473.4" cy="195.8" r="1.55"/><circle cx="469.9" cy="216.7" r="1.55"/><circle cx="467" cy="172.5" r="1.55"/><circle cx="471" cy="173" r="1.55"/><circle cx="467.5" cy="177.5" r="1.55"/><circle cx="474.09" cy="110.42" r="1.55"/><circle cx="475.38" cy="146.14" r="1.55"/><circle cx="475.39" cy="148.78" r="1.55"/><circle cx="474.57" cy="150.66" r="1.55"/><circle cx="476.84" cy="158.67" r="1.55"/><circle cx="465.59" cy="125.03" r="1.55"/><circle cx="468.56" cy="127.83" r="1.55"/><circle cx="473.84" cy="165.28" r="1.55"/><circle cx="468.76" cy="151.43" r="1.55"/><circle cx="475.87" cy="156.63" r="1.55"/><circle cx="464.86" cy="146.28" r="1.55"/><circle cx="466.57" cy="155.41" r="1.55"/><circle cx="465.18" cy="133.59" r="1.55"/><circle cx="468.29" cy="134.37" r="1.55"/><circle cx="476.81" cy="166.41" r="1.55"/><circle cx="463.68" cy="158.1" r="1.55"/><circle cx="470.38" cy="110.92" r="1.55"/><circle cx="472.04" cy="107.82" r="1.55"/><circle cx="467.6" cy="145.43" r="1.55"/><circle cx="473.41" cy="124.69" r="1.55"/><circle cx="468.52" cy="114.22" r="1.55"/><circle cx="477.55" cy="131.2" r="1.55"/><circle cx="476.91" cy="132.13" r="1.55"/><circle cx="466.81" cy="134.03" r="1.55"/><circle cx="464.49" cy="144.29" r="1.55"/><circle cx="468.64" cy="146.66" r="1.55"/><circle cx="469.05" cy="148.94" r="1.55"/><circle cx="473.65" cy="109.22" r="1.55"/><circle cx="473.81" cy="150.56" r="1.55"/><circle cx="471.75" cy="118.65" r="1.55"/><circle cx="465.41" cy="164.42" r="1.55"/><circle cx="473.64" cy="121.53" r="1.55"/><circle cx="474.52" cy="134.53" r="1.55"/><circle cx="470.32" cy="141.37" r="1.55"/><circle cx="467.95" cy="163.47" r="1.55"/><circle cx="478.39" cy="146.79" r="1.55"/><circle cx="474.6" cy="141.77" r="1.55"/><circle cx="467.53" cy="109.77" r="1.55"/><circle cx="474.16" cy="152.24" r="1.55"/><circle cx="470.48" cy="128.48" r="1.55"/><circle cx="464.37" cy="134.88" r="1.55"/><circle cx="467.61" cy="119.48" r="1.55"/><circle cx="472.75" cy="152.7" r="1.55"/><circle cx="476.37" cy="162.64" r="1.55"/><circle cx="464.42" cy="168.61" r="1.55"/><circle cx="473.07" cy="133.84" r="1.55"/><circle cx="473.87" cy="123.83" r="1.55"/><circle cx="468.58" cy="134.26" r="1.55"/><circle cx="474.2" cy="138.45" r="1.55"/><circle cx="469.76" cy="127.7" r="1.55"/><circle cx="466.75" cy="138.45" r="1.55"/><circle cx="475.45" cy="156.17" r="1.55"/><circle cx="466.38" cy="153.17" r="1.55"/><circle cx="465.87" cy="149.08" r="1.55"/><circle cx="473.47" cy="136.33" r="1.55"/><circle cx="477" cy="110.96" r="1.55"/><circle cx="466.34" cy="134.21" r="1.55"/><circle cx="471.25" cy="141.93" r="1.55"/><circle cx="471.17" cy="129.34" r="1.55"/><circle cx="477.52" cy="144.29" r="1.55"/><circle cx="468.49" cy="169.17" r="1.55"/><circle cx="472.15" cy="120.02" r="1.55"/><circle cx="465.16" cy="128.52" r="1.55"/><circle cx="464.11" cy="141.38" r="1.55"/><circle cx="478.4" cy="113.42" r="1.55"/><circle cx="472.54" cy="117.62" r="1.55"/><circle cx="465.51" cy="162.33" r="1.55"/><circle cx="464.39" cy="139.13" r="1.55"/><circle cx="478.29" cy="133.56" r="1.55"/><circle cx="467.96" cy="166.29" r="1.55"/></g>
<path d="M491.7 55.8L491.7 55.8L491.76 56.8L491.8 57.8L491.85 58.8L491.9 59.8L491.95 60.8L492 61.8L492.05 62.8L492.1 63.8L492.16 64.8L492.23 65.8L492.32 66.8L492.41 67.8L492.51 68.8L492.62 69.8L492.72 70.8L492.83 71.8L492.93 72.8L493.05 73.8L493.18 74.8L493.35 75.8L493.54 76.8L493.75 77.8L493.97 78.8L494.2 79.8L494.43 80.8L494.67 81.8L494.92 82.8L495.18 83.8L495.44 84.8L495.7 85.8L495.96 86.8L496.24 87.8L496.56 88.8L496.93 89.8L497.39 90.8L497.91 91.8L498.48 92.8L499.07 93.8L499.67 94.8L500.27 95.8L500.87 96.8L501.46 97.8L502.05 98.8L502.62 99.8L503.17 100.8L503.7 101.8L504.22 102.8L504.73 103.8L505.25 104.8L505.75 105.8L506.26 106.8L506.76 107.8L507.24 108.8L507.66 109.8L507.99 110.8L508.24 111.8L508.43 112.8L508.59 113.8L508.74 114.8L508.9 115.8L509.06 116.8L509.25 117.8L509.47 118.8L509.75 119.8L510.06 120.8L510.4 121.8L510.74 122.8L511.08 123.8L511.43 124.8L511.8 125.8L512.2 126.8L512.64 127.8L513.11 128.8L513.6 129.8L514.1 130.8L514.6 131.8L515.08 132.8L515.54 133.8L515.94 134.8L516.27 135.8L516.54 136.8L516.77 137.8L516.99 138.8L517.19 139.8L517.39 140.8L517.56 141.8L517.68 142.8L517.72 143.8L517.7 144.8L517.63 145.8L517.53 146.8L517.4 147.8L517.2 148.8L516.93 149.8L516.57 150.8L516.16 151.8L515.72 152.8L515.27 153.8L514.82 154.8L514.36 155.8L513.88 156.8L513.39 157.8L512.87 158.8L512.33 159.8L511.79 160.8L511.24 161.8L510.69 162.8L510.12 163.8L509.53 164.8L508.9 165.8L508.21 166.8L507.48 167.8L506.72 168.8L505.96 169.8L505.2 170.8L504.44 171.8L503.7 172.8L502.98 173.8L502.29 174.8L501.62 175.8L500.97 176.8L500.33 177.8L499.7 178.8L499.1 179.8L498.54 180.8L498 181.8L497.48 182.8L496.98 183.8L496.49 184.8L496.03 185.8L495.62 186.8L495.23 187.8L494.88 188.8L494.54 189.8L494.22 190.8L493.94 191.8L493.71 192.8L493.52 193.8L493.37 194.8L493.24 195.8L493.11 196.8L492.99 197.8L492.88 198.8L492.78 199.8L492.71 200.8L492.67 201.8L492.63 202.8L492.61 203.8L492.58 204.8L492.56 205.8L492.53 206.8L492.5 207.8L492.48 208.8L492.45 209.8L492.43 210.8L492.4 211.8L492.38 212.8L492.35 213.8L492.33 214.8L492.31 215.8L492.28 216.8L492.26 217.8L492.23 218.8L492.21 219.8L492.19 220.8L492.16 221.8L492.14 222.8L492.12 223.8L492.1 224.8L492.08 225.8L492.06 226.8L492.04 227.8L492.02 228.8L492 229.8L491.98 230.8L491.96 231.8L491.94 232.8L491.92 233.8L491.9 234.8L491.88 235.8L491.86 236.8L491.84 237.8L491.82 238.8L491.8 239.8L491.78 240.8L491.76 241.8L491.74 242.8L491.73 243.8L491.7 244.8L491.7 244.8Z" fill="#b14a55" stroke="#242424" stroke-width="1.25" stroke-linejoin="round"/>
<rect x="488.2" y="120.6" width="7.3" height="38.3" fill="#b14a55" stroke="#303030" stroke-width="1.15"/>
<line x1="488.2" x2="495.5" y1="140.5" y2="140.5" stroke="#303030" stroke-width="2.1"/>
<g fill="#d2a038" fill-opacity="0.5" stroke="#d2a038" stroke-opacity="0.7" stroke-width="0.55"><circle cx="542.1" cy="71.1" r="1.55"/><circle cx="545.9" cy="76.6" r="1.55"/><circle cx="542.4" cy="83.2" r="1.55"/><circle cx="546.4" cy="84.4" r="1.55"/><circle cx="537" cy="91.5" r="1.55"/><circle cx="544" cy="92.5" r="1.55"/><circle cx="533.1" cy="205.9" r="1.55"/><circle cx="538" cy="196" r="1.55"/><circle cx="534.5" cy="189" r="1.55"/><circle cx="540.5" cy="190.5" r="1.55"/><circle cx="534" cy="171.5" r="1.55"/><circle cx="540" cy="178" r="1.55"/><circle cx="546.5" cy="179.5" r="1.55"/><circle cx="536" cy="182" r="1.55"/><circle cx="541" cy="184" r="1.55"/><circle cx="545" cy="181" r="1.55"/><circle cx="538.5" cy="186.5" r="1.55"/><circle cx="538.66" cy="136.87" r="1.55"/><circle cx="541.31" cy="174.49" r="1.55"/><circle cx="546.94" cy="162.57" r="1.55"/><circle cx="544.38" cy="174.47" r="1.55"/><circle cx="533.11" cy="154.5" r="1.55"/><circle cx="537.36" cy="123.81" r="1.55"/><circle cx="535.73" cy="156.44" r="1.55"/><circle cx="534.96" cy="115.47" r="1.55"/><circle cx="547.04" cy="147.35" r="1.55"/><circle cx="546.39" cy="157" r="1.55"/><circle cx="535.58" cy="135.13" r="1.55"/><circle cx="540.8" cy="136.19" r="1.55"/><circle cx="533.12" cy="114.76" r="1.55"/><circle cx="541.85" cy="143.64" r="1.55"/><circle cx="542.93" cy="124.47" r="1.55"/><circle cx="538.36" cy="108.67" r="1.55"/><circle cx="544.96" cy="102.05" r="1.55"/><circle cx="547.88" cy="166.37" r="1.55"/><circle cx="545.86" cy="119.41" r="1.55"/><circle cx="534.03" cy="169.46" r="1.55"/><circle cx="542.92" cy="146.27" r="1.55"/><circle cx="533.3" cy="97.75" r="1.55"/><circle cx="547.37" cy="169.92" r="1.55"/><circle cx="532.64" cy="141.55" r="1.55"/><circle cx="534.56" cy="135.4" r="1.55"/><circle cx="546.9" cy="128.71" r="1.55"/><circle cx="545.01" cy="148.45" r="1.55"/><circle cx="543.94" cy="169.53" r="1.55"/><circle cx="543.96" cy="124.48" r="1.55"/><circle cx="538.8" cy="124.47" r="1.55"/><circle cx="544.42" cy="113.51" r="1.55"/><circle cx="546.95" cy="103.08" r="1.55"/><circle cx="539.16" cy="129.92" r="1.55"/><circle cx="540.88" cy="138.09" r="1.55"/><circle cx="543.72" cy="126.77" r="1.55"/><circle cx="537.06" cy="173.05" r="1.55"/><circle cx="542.36" cy="135.7" r="1.55"/><circle cx="547.32" cy="122.93" r="1.55"/><circle cx="536.38" cy="123.15" r="1.55"/><circle cx="533.6" cy="151.4" r="1.55"/><circle cx="534.18" cy="154.26" r="1.55"/><circle cx="541.04" cy="133.85" r="1.55"/><circle cx="546.41" cy="121.25" r="1.55"/><circle cx="545.55" cy="146.66" r="1.55"/><circle cx="544.83" cy="138.31" r="1.55"/><circle cx="546.12" cy="141.91" r="1.55"/><circle cx="540.55" cy="157.8" r="1.55"/><circle cx="547.54" cy="100.16" r="1.55"/><circle cx="546.82" cy="130.19" r="1.55"/><circle cx="541.71" cy="173.27" r="1.55"/><circle cx="532.8" cy="147.35" r="1.55"/><circle cx="540.85" cy="131.61" r="1.55"/><circle cx="541.37" cy="174.23" r="1.55"/><circle cx="546.31" cy="125.19" r="1.55"/><circle cx="547.89" cy="165.72" r="1.55"/><circle cx="533.96" cy="119.38" r="1.55"/><circle cx="545.49" cy="154.16" r="1.55"/><circle cx="534.46" cy="158.7" r="1.55"/><circle cx="537.36" cy="151.39" r="1.55"/><circle cx="534.79" cy="157.47" r="1.55"/><circle cx="544.97" cy="147.86" r="1.55"/><circle cx="535.27" cy="155.95" r="1.55"/><circle cx="536.51" cy="136.52" r="1.55"/><circle cx="543.03" cy="123.38" r="1.55"/><circle cx="535.01" cy="155.9" r="1.55"/><circle cx="536.19" cy="134.02" r="1.55"/><circle cx="543.83" cy="144.6" r="1.55"/><circle cx="546.8" cy="123" r="1.55"/><circle cx="537.6" cy="134.28" r="1.55"/><circle cx="538.07" cy="137.87" r="1.55"/><circle cx="546.42" cy="99.06" r="1.55"/><circle cx="541.54" cy="125.38" r="1.55"/><circle cx="537.19" cy="111.51" r="1.55"/><circle cx="547.82" cy="119.32" r="1.55"/><circle cx="543.74" cy="164.69" r="1.55"/><circle cx="539.4" cy="145.41" r="1.55"/><circle cx="546.44" cy="133.87" r="1.55"/><circle cx="539.55" cy="146.85" r="1.55"/><circle cx="547.03" cy="118.9" r="1.55"/><circle cx="539.07" cy="136.07" r="1.55"/><circle cx="543.22" cy="144.83" r="1.55"/><circle cx="532.78" cy="170.08" r="1.55"/><circle cx="535.34" cy="94.85" r="1.55"/><circle cx="538.93" cy="157.21" r="1.55"/><circle cx="546.99" cy="158.27" r="1.55"/><circle cx="543.32" cy="106.12" r="1.55"/><circle cx="535.8" cy="109.19" r="1.55"/><circle cx="545.43" cy="173.8" r="1.55"/><circle cx="544.81" cy="101.31" r="1.55"/><circle cx="538.29" cy="137.03" r="1.55"/><circle cx="543.78" cy="140.6" r="1.55"/><circle cx="545.97" cy="148.96" r="1.55"/><circle cx="534.95" cy="123.17" r="1.55"/><circle cx="545.23" cy="104.75" r="1.55"/><circle cx="544.43" cy="147.21" r="1.55"/><circle cx="542.51" cy="159.91" r="1.55"/><circle cx="537.6" cy="137.72" r="1.55"/><circle cx="543.54" cy="108.5" r="1.55"/><circle cx="533.21" cy="146.42" r="1.55"/><circle cx="545.09" cy="113.58" r="1.55"/><circle cx="538.31" cy="110.04" r="1.55"/><circle cx="533.51" cy="103.51" r="1.55"/><circle cx="537.28" cy="140.64" r="1.55"/><circle cx="536.88" cy="104.79" r="1.55"/><circle cx="535.76" cy="143.13" r="1.55"/><circle cx="537.05" cy="163.47" r="1.55"/><circle cx="544.82" cy="125.62" r="1.55"/><circle cx="534.85" cy="106.61" r="1.55"/><circle cx="535.46" cy="130.8" r="1.55"/><circle cx="539.07" cy="127.23" r="1.55"/><circle cx="541.48" cy="124.81" r="1.55"/><circle cx="544.25" cy="152.55" r="1.55"/><circle cx="544.8" cy="106.23" r="1.55"/><circle cx="536.13" cy="148.62" r="1.55"/><circle cx="538.39" cy="138.69" r="1.55"/><circle cx="545.47" cy="132.92" r="1.55"/><circle cx="535.26" cy="135.16" r="1.55"/><circle cx="547.8" cy="156.2" r="1.55"/><circle cx="541" cy="140.62" r="1.55"/><circle cx="534.97" cy="125.48" r="1.55"/><circle cx="543.56" cy="151.26" r="1.55"/><circle cx="540.85" cy="135.08" r="1.55"/><circle cx="533.89" cy="125.03" r="1.55"/><circle cx="537.94" cy="166.31" r="1.55"/><circle cx="538.57" cy="172.56" r="1.55"/><circle cx="543.76" cy="161.04" r="1.55"/><circle cx="541.57" cy="119.21" r="1.55"/><circle cx="536.64" cy="156.14" r="1.55"/><circle cx="533.75" cy="119.92" r="1.55"/><circle cx="540.22" cy="134.67" r="1.55"/><circle cx="534.32" cy="138" r="1.55"/><circle cx="540.8" cy="117.72" r="1.55"/><circle cx="537" cy="131" r="1.55"/><circle cx="547.57" cy="132.74" r="1.55"/><circle cx="546.04" cy="145.48" r="1.55"/></g>
<path d="M561 41.46L561 41.46L561.03 42.46L561.05 43.46L561.07 44.46L561.09 45.46L561.11 46.46L561.13 47.46L561.16 48.46L561.18 49.46L561.2 50.46L561.23 51.46L561.27 52.46L561.32 53.46L561.38 54.46L561.45 55.46L561.53 56.46L561.6 57.46L561.68 58.46L561.76 59.46L561.84 60.46L561.94 61.46L562.07 62.46L562.24 63.46L562.46 64.46L562.7 65.46L562.95 66.46L563.21 67.46L563.47 68.46L563.73 69.46L563.99 70.46L564.25 71.46L564.52 72.46L564.81 73.46L565.15 74.46L565.57 75.46L566.09 76.46L566.69 77.46L567.33 78.46L567.99 79.46L568.66 80.46L569.34 81.46L570.02 82.46L570.72 83.46L571.44 84.46L572.16 85.46L572.89 86.46L573.63 87.46L574.36 88.46L575.09 89.46L575.83 90.46L576.56 91.46L577.29 92.46L578.03 93.46L578.76 94.46L579.48 95.46L580.19 96.46L580.84 97.46L581.43 98.46L581.94 99.46L582.41 100.46L582.85 101.46L583.28 102.46L583.71 103.46L584.11 104.46L584.47 105.46L584.78 106.46L585.05 107.46L585.3 108.46L585.53 109.46L585.76 110.46L585.98 111.46L586.17 112.46L586.32 113.46L586.43 114.46L586.51 115.46L586.58 116.46L586.64 117.46L586.7 118.46L586.76 119.46L586.82 120.46L586.88 121.46L586.94 122.46L587 123.46L587.05 124.46L587.1 125.46L587.14 126.46L587.18 127.46L587.21 128.46L587.23 129.46L587.26 130.46L587.29 131.46L587.31 132.46L587.32 133.46L587.32 134.46L587.28 135.46L587.21 136.46L587.13 137.46L587.03 138.46L586.93 139.46L586.83 140.46L586.73 141.46L586.63 142.46L586.51 143.46L586.36 144.46L586.16 145.46L585.92 146.46L585.65 147.46L585.35 148.46L585.05 149.46L584.75 150.46L584.45 151.46L584.15 152.46L583.82 153.46L583.46 154.46L583.05 155.46L582.57 156.46L582.05 157.46L581.51 158.46L580.97 159.46L580.42 160.46L579.87 161.46L579.32 162.46L578.78 163.46L578.25 164.46L577.75 165.46L577.27 166.46L576.8 167.46L576.35 168.46L575.9 169.46L575.45 170.46L575 171.46L574.55 172.46L574.1 173.46L573.67 174.46L573.25 175.46L572.86 176.46L572.47 177.46L572.09 178.46L571.72 179.46L571.34 180.46L570.97 181.46L570.59 182.46L570.21 183.46L569.82 184.46L569.43 185.46L569.02 186.46L568.6 187.46L568.18 188.46L567.76 189.46L567.33 190.46L566.91 191.46L566.48 192.46L566.07 193.46L565.67 194.46L565.3 195.46L564.95 196.46L564.63 197.46L564.33 198.46L564.02 199.46L563.72 200.46L563.43 201.46L563.13 202.46L562.85 203.46L562.59 204.46L562.38 205.46L562.23 206.46L562.11 207.46L562.03 208.46L561.95 209.46L561.87 210.46L561.8 211.46L561.72 212.46L561.65 213.46L561.59 214.46L561.53 215.46L561.49 216.46L561.45 217.46L561.43 218.46L561.4 219.46L561.38 220.46L561.35 221.46L561.33 222.46L561.3 223.46L561.28 224.46L561.25 225.46L561.23 226.46L561.2 227.46L561.18 228.46L561.15 229.46L561.13 230.46L561.1 231.46L561.08 232.46L561.05 233.46L561.03 234.46L561 235.46L561 235.46Z" fill="#d2a038" stroke="#242424" stroke-width="1.25" stroke-linejoin="round"/>
<rect x="557.5" y="110.6" width="7.3" height="42.5" fill="#d2a038" stroke="#303030" stroke-width="1.15"/>
<line x1="557.5" x2="564.8" y1="131.7" y2="131.7" stroke="#303030" stroke-width="2.1"/>
<g fill="#7f7f7f" fill-opacity="0.5" stroke="#7f7f7f" stroke-opacity="0.7" stroke-width="0.55"><circle cx="613" cy="70.1" r="1.55"/><circle cx="611" cy="73.4" r="1.55"/><circle cx="605" cy="80.4" r="1.55"/><circle cx="607.5" cy="82" r="1.55"/><circle cx="612.5" cy="83.8" r="1.55"/><circle cx="603.5" cy="85.5" r="1.55"/><circle cx="607.5" cy="87" r="1.55"/><circle cx="613.5" cy="87.5" r="1.55"/><circle cx="607" cy="90" r="1.55"/><circle cx="612.5" cy="91.5" r="1.55"/><circle cx="609.5" cy="94.5" r="1.55"/><circle cx="607" cy="97.5" r="1.55"/><circle cx="611" cy="99" r="1.55"/><circle cx="613" cy="102" r="1.55"/><circle cx="613.5" cy="108" r="1.55"/><circle cx="606" cy="110.5" r="1.55"/><circle cx="609" cy="114" r="1.55"/><circle cx="608" cy="114.6" r="1.55"/><circle cx="615.5" cy="114.5" r="1.55"/><circle cx="611.5" cy="117" r="1.55"/><circle cx="606.5" cy="120.5" r="1.55"/><circle cx="609.5" cy="125" r="1.55"/><circle cx="613.5" cy="127.5" r="1.55"/><circle cx="608.5" cy="128.5" r="1.55"/><circle cx="615.5" cy="128.5" r="1.55"/><circle cx="607.5" cy="133.5" r="1.55"/><circle cx="611" cy="134.5" r="1.55"/><circle cx="608.5" cy="138" r="1.55"/><circle cx="607" cy="143.5" r="1.55"/><circle cx="611" cy="142" r="1.55"/><circle cx="613" cy="150" r="1.55"/><circle cx="614.5" cy="150.5" r="1.55"/><circle cx="607.5" cy="156.5" r="1.55"/><circle cx="602.7" cy="162.9" r="1.55"/><circle cx="615.3" cy="172" r="1.55"/><circle cx="606.5" cy="178.7" r="1.55"/><circle cx="603" cy="166" r="1.55"/><circle cx="610" cy="104" r="1.55"/><circle cx="605" cy="100" r="1.55"/><circle cx="614" cy="95" r="1.55"/></g>
<path d="M630.3 32.66L630.3 32.66L630.33 33.66L630.35 34.66L630.38 35.66L630.4 36.66L630.43 37.66L630.45 38.66L630.48 39.66L630.51 40.66L630.55 41.66L630.62 42.66L630.71 43.66L630.82 44.66L630.95 45.66L631.08 46.66L631.22 47.66L631.39 48.66L631.6 49.66L631.89 50.66L632.24 51.66L632.66 52.66L633.09 53.66L633.54 54.66L633.99 55.66L634.45 56.66L634.91 57.66L635.41 58.66L636 59.66L636.7 60.66L637.54 61.66L638.47 62.66L639.45 63.66L640.44 64.66L641.43 65.66L642.4 66.66L643.35 67.66L644.25 68.66L645.12 69.66L645.97 70.66L646.8 71.66L647.63 72.66L648.44 73.66L649.21 74.66L649.92 75.66L650.58 76.66L651.18 77.66L651.76 78.66L652.32 79.66L652.88 80.66L653.4 81.66L653.87 82.66L654.27 83.66L654.6 84.66L654.89 85.66L655.17 86.66L655.43 87.66L655.68 88.66L655.89 89.66L656.05 90.66L656.16 91.66L656.22 92.66L656.26 93.66L656.28 94.66L656.31 95.66L656.33 96.66L656.36 97.66L656.37 98.66L656.36 99.66L656.33 100.66L656.25 101.66L656.15 102.66L656.03 103.66L655.91 104.66L655.79 105.66L655.66 106.66L655.54 107.66L655.42 108.66L655.3 109.66L655.2 110.66L655.1 111.66L655.02 112.66L654.94 113.66L654.87 114.66L654.79 115.66L654.72 116.66L654.64 117.66L654.56 118.66L654.48 119.66L654.4 120.66L654.31 121.66L654.21 122.66L654.11 123.66L654.01 124.66L653.91 125.66L653.8 126.66L653.68 127.66L653.54 128.66L653.37 129.66L653.2 130.66L653.01 131.66L652.81 132.66L652.58 133.66L652.3 134.66L651.94 135.66L651.51 136.66L651.05 137.66L650.56 138.66L650.06 139.66L649.56 140.66L649.04 141.66L648.51 142.66L647.94 143.66L647.36 144.66L646.76 145.66L646.17 146.66L645.57 147.66L645 148.66L644.45 149.66L643.94 150.66L643.47 151.66L643.03 152.66L642.6 153.66L642.17 154.66L641.74 155.66L641.32 156.66L640.9 157.66L640.49 158.66L640.1 159.66L639.74 160.66L639.4 161.66L639.09 162.66L638.79 163.66L638.49 164.66L638.19 165.66L637.89 166.66L637.59 167.66L637.29 168.66L636.99 169.66L636.69 170.66L636.4 171.66L636.12 172.66L635.86 173.66L635.61 174.66L635.37 175.66L635.13 176.66L634.88 177.66L634.64 178.66L634.4 179.66L634.16 180.66L633.93 181.66L633.69 182.66L633.45 183.66L633.23 184.66L633.02 185.66L632.83 186.66L632.64 187.66L632.47 188.66L632.29 189.66L632.12 190.66L631.94 191.66L631.77 192.66L631.6 193.66L631.45 194.66L631.33 195.66L631.22 196.66L631.13 197.66L631.05 198.66L630.98 199.66L630.9 200.66L630.83 201.66L630.75 202.66L630.68 203.66L630.62 204.66L630.57 205.66L630.53 206.66L630.5 207.66L630.47 208.66L630.45 209.66L630.42 210.66L630.4 211.66L630.38 212.66L630.35 213.66L630.33 214.66L630.3 215.66L630.3 215.66Z" fill="#7f7f7f" stroke="#242424" stroke-width="1.25" stroke-linejoin="round"/>
<rect x="626.6" y="89.7" width="7" height="43.5" fill="#7f7f7f" stroke="#303030" stroke-width="1.15"/>
<line x1="626.6" x2="633.6" y1="114.3" y2="114.3" stroke="#303030" stroke-width="2.1"/>
<rect x="382.3" y="22.5" width="286.7" height="232.9" fill="none" stroke="#3c3c3c" stroke-width="1.1"/>
<line x1="380.1" x2="382.3" y1="55.8" y2="55.8" stroke="#333" stroke-width="0.8"/>
<text x="379.1" y="59.9" text-anchor="end" class="tk">2</text>
<line x1="380.1" x2="382.3" y1="92.5" y2="92.5" stroke="#333" stroke-width="0.8"/>
<text x="379.1" y="96.6" text-anchor="end" class="tk">1</text>
<line x1="380.1" x2="382.3" y1="129.2" y2="129.2" stroke="#333" stroke-width="0.8"/>
<text x="379.1" y="133.3" text-anchor="end" class="tk">0</text>
<line x1="380.1" x2="382.3" y1="165.9" y2="165.9" stroke="#333" stroke-width="0.8"/>
<text x="379.1" y="170" text-anchor="end" class="tk">-1</text>
<line x1="380.1" x2="382.3" y1="202.6" y2="202.6" stroke="#333" stroke-width="0.8"/>
<text x="379.1" y="206.7" text-anchor="end" class="tk">-2</text>
<line x1="380.1" x2="382.3" y1="239.3" y2="239.3" stroke="#333" stroke-width="0.8"/>
<text x="379.1" y="243.4" text-anchor="end" class="tk">-3</text>
<line x1="415.3" x2="415.3" y1="255.4" y2="257.6" stroke="#333" stroke-width="0.8"/>
<text x="415.3" y="266.2" text-anchor="middle" class="cat">HC</text>
<line x1="484.8" x2="484.8" y1="255.4" y2="257.6" stroke="#333" stroke-width="0.8"/>
<text x="484.8" y="266.2" text-anchor="middle" class="cat">SCD</text>
<line x1="554.3" x2="554.3" y1="255.4" y2="257.6" stroke="#333" stroke-width="0.8"/>
<text x="554.3" y="266.2" text-anchor="middle" class="cat">MCI</text>
<line x1="623.8" x2="623.8" y1="255.4" y2="257.6" stroke="#333" stroke-width="0.8"/>
<text x="623.8" y="266.2" text-anchor="middle" class="cat">AD</text>
<text transform="translate(364.8 139.8) rotate(-90)" text-anchor="middle" class="yt">lgpWMH</text>
<text x="347.9" y="13.5" class="pl">B</text>
</g>
<g>
<rect x="29.6" y="291.6" width="286.9" height="232.5" fill="#fff"/>
<line x1="29.6" x2="316.5" y1="336.8" y2="336.8" stroke="#f2f2f2" stroke-width="0.5"/>
<line x1="29.6" x2="316.5" y1="381.3" y2="381.3" stroke="#f2f2f2" stroke-width="0.5"/>
<line x1="29.6" x2="316.5" y1="425.8" y2="425.8" stroke="#f2f2f2" stroke-width="0.5"/>
<line x1="29.6" x2="316.5" y1="470.3" y2="470.3" stroke="#f2f2f2" stroke-width="0.5"/>
<line x1="29.6" x2="316.5" y1="514.8" y2="514.8" stroke="#f2f2f2" stroke-width="0.5"/>
<line x1="29.6" x2="316.5" y1="292.3" y2="292.3" stroke="#f2f2f2" stroke-width="0.5"/>
<line x1="97.5" x2="97.5" y1="291.6" y2="524.1" stroke="#f2f2f2" stroke-width="0.5"/>
<line x1="166.9" x2="166.9" y1="291.6" y2="524.1" stroke="#f2f2f2" stroke-width="0.5"/>
<line x1="236.3" x2="236.3" y1="291.6" y2="524.1" stroke="#f2f2f2" stroke-width="0.5"/>
<line x1="305.7" x2="305.7" y1="291.6" y2="524.1" stroke="#f2f2f2" stroke-width="0.5"/>
<line x1="29.6" x2="316.5" y1="314.5" y2="314.5" stroke="#e9e9e9" stroke-width="0.75"/>
<line x1="29.6" x2="316.5" y1="359" y2="359" stroke="#e9e9e9" stroke-width="0.75"/>
<line x1="29.6" x2="316.5" y1="403.5" y2="403.5" stroke="#e9e9e9" stroke-width="0.75"/>
<line x1="29.6" x2="316.5" y1="448" y2="448" stroke="#e9e9e9" stroke-width="0.75"/>
<line x1="29.6" x2="316.5" y1="492.5" y2="492.5" stroke="#e9e9e9" stroke-width="0.75"/>
<line x1="62.8" x2="62.8" y1="291.6" y2="524.1" stroke="#e9e9e9" stroke-width="0.75"/>
<line x1="132.2" x2="132.2" y1="291.6" y2="524.1" stroke="#e9e9e9" stroke-width="0.75"/>
<line x1="201.6" x2="201.6" y1="291.6" y2="524.1" stroke="#e9e9e9" stroke-width="0.75"/>
<line x1="271" x2="271" y1="291.6" y2="524.1" stroke="#e9e9e9" stroke-width="0.75"/>
<g fill="#86b04f" fill-opacity="0.5" stroke="#86b04f" stroke-opacity="0.7" stroke-width="0.55"><circle cx="44" cy="390.9" r="1.55"/><circle cx="47" cy="389.9" r="1.55"/><circle cx="54" cy="391.6" r="1.55"/><circle cx="49" cy="399.6" r="1.55"/><circle cx="54.8" cy="399.9" r="1.55"/><circle cx="43.7" cy="443.7" r="1.55"/><circle cx="49.5" cy="457.3" r="1.55"/><circle cx="54.8" cy="466.8" r="1.55"/><circle cx="44.63" cy="427.91" r="1.55"/><circle cx="52.39" cy="431.32" r="1.55"/><circle cx="51.03" cy="408.79" r="1.55"/><circle cx="50.3" cy="410.59" r="1.55"/><circle cx="51.06" cy="432.21" r="1.55"/><circle cx="49.63" cy="421.96" r="1.55"/><circle cx="47.59" cy="432.22" r="1.55"/><circle cx="45.44" cy="404.56" r="1.55"/><circle cx="52.06" cy="433.17" r="1.55"/><circle cx="50.91" cy="433.76" r="1.55"/><circle cx="45.37" cy="404.79" r="1.55"/><circle cx="49.78" cy="423.07" r="1.55"/><circle cx="51.21" cy="428.22" r="1.55"/><circle cx="51.79" cy="431.23" r="1.55"/><circle cx="46.96" cy="418.12" r="1.55"/><circle cx="52.03" cy="423.27" r="1.55"/><circle cx="48.36" cy="416.76" r="1.55"/><circle cx="44.59" cy="433.6" r="1.55"/><circle cx="51.23" cy="422.23" r="1.55"/><circle cx="48.39" cy="433.43" r="1.55"/><circle cx="51.76" cy="405.92" r="1.55"/><circle cx="54.91" cy="413.39" r="1.55"/><circle cx="48.92" cy="425.78" r="1.55"/><circle cx="55.75" cy="402.73" r="1.55"/><circle cx="54.62" cy="402.1" r="1.55"/><circle cx="51.97" cy="423.49" r="1.55"/><circle cx="50.78" cy="402.7" r="1.55"/><circle cx="55.28" cy="430.54" r="1.55"/><circle cx="56.13" cy="407.39" r="1.55"/><circle cx="49.75" cy="407.65" r="1.55"/></g>
<path d="M69.8 368.75L69.8 368.75L70.01 369.75L70.15 370.75L70.32 371.75L70.51 372.75L70.73 373.75L70.99 374.75L71.3 375.75L71.68 376.75L72.17 377.75L72.75 378.75L73.38 379.75L74.03 380.75L74.7 381.75L75.37 382.75L76.06 383.75L76.76 384.75L77.48 385.75L78.22 386.75L78.96 387.75L79.71 388.75L80.46 389.75L81.21 390.75L81.96 391.75L82.72 392.75L83.49 393.75L84.27 394.75L85.08 395.75L85.9 396.75L86.74 397.75L87.57 398.75L88.41 399.75L89.25 400.75L90.1 401.75L90.97 402.75L91.87 403.75L92.79 404.75L93.65 405.75L94.37 406.75L94.88 407.75L95.2 408.75L95.34 409.75L95.34 410.75L95.21 411.75L94.97 412.75L94.66 413.75L94.27 414.75L93.77 415.75L93.16 416.75L92.47 417.75L91.72 418.75L90.96 419.75L90.19 420.75L89.41 421.75L88.6 422.75L87.76 423.75L86.89 424.75L86.01 425.75L85.11 426.75L84.21 427.75L83.33 428.75L82.48 429.75L81.67 430.75L80.92 431.75L80.22 432.75L79.54 433.75L78.87 434.75L78.21 435.75L77.58 436.75L76.99 437.75L76.46 438.75L75.99 439.75L75.56 440.75L75.16 441.75L74.76 442.75L74.38 443.75L74.03 444.75L73.75 445.75L73.54 446.75L73.39 447.75L73.27 448.75L73.17 449.75L73.07 450.75L72.97 451.75L72.88 452.75L72.8 453.75L72.72 454.75L72.65 455.75L72.58 456.75L72.51 457.75L72.44 458.75L72.37 459.75L72.27 460.75L72.17 461.75L72.05 462.75L71.92 463.75L71.78 464.75L71.65 465.75L71.52 466.75L71.4 467.75L71.28 468.75L71.17 469.75L71.07 470.75L70.97 471.75L70.87 472.75L70.77 473.75L70.67 474.75L70.57 475.75L70.47 476.75L70.38 477.75L70.3 478.75L70.24 479.75L70.18 480.75L70.12 481.75L70.07 482.75L70.01 483.75L69.96 484.75L69.91 485.75L69.87 486.75L69.8 487.25L69.8 487.25Z" fill="#86b04f" stroke="#242424" stroke-width="1.25" stroke-linejoin="round"/>
<rect x="66.1" y="404.3" width="7.5" height="21.3" fill="#86b04f" stroke="#303030" stroke-width="1.15"/>
<line x1="66.1" x2="73.6" y1="414.3" y2="414.3" stroke="#303030" stroke-width="2.1"/>
<g fill="#b14a55" fill-opacity="0.5" stroke="#b14a55" stroke-opacity="0.7" stroke-width="0.55"><circle cx="123.6" cy="361" r="1.55"/><circle cx="118" cy="365" r="1.55"/><circle cx="118" cy="374" r="1.55"/><circle cx="111.8" cy="380.3" r="1.55"/><circle cx="115.6" cy="377.8" r="1.55"/><circle cx="119.3" cy="378.3" r="1.55"/><circle cx="112.3" cy="451.2" r="1.55"/><circle cx="112.3" cy="457" r="1.55"/><circle cx="118" cy="458.3" r="1.55"/><circle cx="123.6" cy="460.8" r="1.55"/><circle cx="123.6" cy="465.3" r="1.55"/><circle cx="121.4" cy="475.4" r="1.55"/><circle cx="124.4" cy="478.4" r="1.55"/><circle cx="115.3" cy="489.2" r="1.55"/><circle cx="117" cy="445" r="1.55"/><circle cx="122" cy="447.5" r="1.55"/><circle cx="113" cy="440" r="1.55"/><circle cx="125.52" cy="437.67" r="1.55"/><circle cx="124.16" cy="414.47" r="1.55"/><circle cx="124.55" cy="417.5" r="1.55"/><circle cx="121.41" cy="400.1" r="1.55"/><circle cx="125.45" cy="420.67" r="1.55"/><circle cx="121.07" cy="415.76" r="1.55"/><circle cx="114.09" cy="431.15" r="1.55"/><circle cx="118.18" cy="401.92" r="1.55"/><circle cx="114.23" cy="416.38" r="1.55"/><circle cx="112.97" cy="427.49" r="1.55"/><circle cx="112.48" cy="420.16" r="1.55"/><circle cx="115.62" cy="422.55" r="1.55"/><circle cx="122.11" cy="427.03" r="1.55"/><circle cx="113.57" cy="398.82" r="1.55"/><circle cx="115.29" cy="418.27" r="1.55"/><circle cx="117.95" cy="410.46" r="1.55"/><circle cx="123.35" cy="398.26" r="1.55"/><circle cx="123.92" cy="421.17" r="1.55"/><circle cx="120.75" cy="392.43" r="1.55"/><circle cx="113.29" cy="412.22" r="1.55"/><circle cx="123.08" cy="419.3" r="1.55"/><circle cx="125.89" cy="383.14" r="1.55"/><circle cx="125.13" cy="434.15" r="1.55"/><circle cx="114.97" cy="408.69" r="1.55"/><circle cx="114.06" cy="411.45" r="1.55"/><circle cx="125.16" cy="393.48" r="1.55"/><circle cx="121.74" cy="387.19" r="1.55"/><circle cx="118.1" cy="437.22" r="1.55"/><circle cx="123.82" cy="404.21" r="1.55"/><circle cx="122.09" cy="406.04" r="1.55"/><circle cx="113.58" cy="415.49" r="1.55"/><circle cx="125.61" cy="406.02" r="1.55"/><circle cx="120.11" cy="424.06" r="1.55"/><circle cx="118.22" cy="427.21" r="1.55"/><circle cx="125.05" cy="405.46" r="1.55"/><circle cx="117.77" cy="419.57" r="1.55"/><circle cx="110.74" cy="411.09" r="1.55"/><circle cx="119.81" cy="421.36" r="1.55"/><circle cx="125.2" cy="406.31" r="1.55"/><circle cx="118.25" cy="434.77" r="1.55"/><circle cx="122.58" cy="417.76" r="1.55"/><circle cx="122.52" cy="408.96" r="1.55"/><circle cx="118.61" cy="415.61" r="1.55"/><circle cx="119.39" cy="409.78" r="1.55"/><circle cx="114.91" cy="393.51" r="1.55"/><circle cx="124.86" cy="398.58" r="1.55"/><circle cx="125.76" cy="432.27" r="1.55"/><circle cx="119.34" cy="390.51" r="1.55"/><circle cx="112.26" cy="436.67" r="1.55"/><circle cx="122.46" cy="425" r="1.55"/><circle cx="113.01" cy="403.31" r="1.55"/><circle cx="111.67" cy="400.6" r="1.55"/><circle cx="114.2" cy="434.29" r="1.55"/><circle cx="115.95" cy="418.62" r="1.55"/><circle cx="118.06" cy="404.2" r="1.55"/><circle cx="113.84" cy="412.35" r="1.55"/><circle cx="112.32" cy="432.8" r="1.55"/><circle cx="118.3" cy="404.68" r="1.55"/><circle cx="121.55" cy="394.9" r="1.55"/><circle cx="121.46" cy="416.39" r="1.55"/><circle cx="126.3" cy="414.37" r="1.55"/><circle cx="126.32" cy="431.71" r="1.55"/><circle cx="123.76" cy="413.41" r="1.55"/><circle cx="125.95" cy="434.27" r="1.55"/><circle cx="111.48" cy="409.44" r="1.55"/><circle cx="116.77" cy="417.46" r="1.55"/><circle cx="116.6" cy="391.68" r="1.55"/><circle cx="123.44" cy="418.56" r="1.55"/><circle cx="115.7" cy="424.56" r="1.55"/><circle cx="123.3" cy="408.66" r="1.55"/><circle cx="121.37" cy="409.67" r="1.55"/><circle cx="120.61" cy="392.32" r="1.55"/></g>
<path d="M139.2 336.34L139.2 336.34L139.26 337.34L139.3 338.34L139.34 339.34L139.39 340.34L139.44 341.34L139.48 342.34L139.54 343.34L139.6 344.34L139.67 345.34L139.74 346.34L139.82 347.34L139.91 348.34L140 349.34L140.1 350.34L140.22 351.34L140.39 352.34L140.59 353.34L140.82 354.34L141.06 355.34L141.31 356.34L141.56 357.34L141.81 358.34L142.07 359.34L142.33 360.34L142.63 361.34L142.96 362.34L143.33 363.34L143.73 364.34L144.15 365.34L144.58 366.34L145 367.34L145.43 368.34L145.86 369.34L146.29 370.34L146.75 371.34L147.25 372.34L147.78 373.34L148.33 374.34L148.9 375.34L149.47 376.34L150.05 377.34L150.62 378.34L151.2 379.34L151.77 380.34L152.34 381.34L152.9 382.34L153.46 383.34L154.02 384.34L154.57 385.34L155.12 386.34L155.67 387.34L156.22 388.34L156.76 389.34L157.3 390.34L157.82 391.34L158.3 392.34L158.75 393.34L159.17 394.34L159.58 395.34L159.98 396.34L160.38 397.34L160.77 398.34L161.15 399.34L161.52 400.34L161.87 401.34L162.22 402.34L162.58 403.34L162.96 404.34L163.36 405.34L163.77 406.34L164.14 407.34L164.43 408.34L164.64 409.34L164.79 410.34L164.9 411.34L165 412.34L165.09 413.34L165.13 414.34L165.11 415.34L165 416.34L164.82 417.34L164.58 418.34L164.32 419.34L164.05 420.34L163.77 421.34L163.47 422.34L163.13 423.34L162.75 424.34L162.34 425.34L161.92 426.34L161.48 427.34L161.04 428.34L160.57 429.34L160.07 430.34L159.51 431.34L158.89 432.34L158.25 433.34L157.59 434.34L156.92 435.34L156.25 436.34L155.58 437.34L154.9 438.34L154.21 439.34L153.51 440.34L152.82 441.34L152.12 442.34L151.43 443.34L150.75 444.34L150.11 445.34L149.52 446.34L148.97 447.34L148.45 448.34L147.94 449.34L147.45 450.34L146.97 451.34L146.52 452.34L146.13 453.34L145.8 454.34L145.53 455.34L145.29 456.34L145.07 457.34L144.84 458.34L144.61 459.34L144.39 460.34L144.17 461.34L143.96 462.34L143.76 463.34L143.59 464.34L143.42 465.34L143.27 466.34L143.12 467.34L142.97 468.34L142.82 469.34L142.67 470.34L142.52 471.34L142.37 472.34L142.23 473.34L142.1 474.34L141.97 475.34L141.84 476.34L141.72 477.34L141.59 478.34L141.47 479.34L141.34 480.34L141.22 481.34L141.1 482.34L141 483.34L140.9 484.34L140.82 485.34L140.74 486.34L140.66 487.34L140.59 488.34L140.51 489.34L140.44 490.34L140.37 491.34L140.29 492.34L140.23 493.34L140.17 494.34L140.11 495.34L140.06 496.34L140.01 497.34L139.96 498.34L139.91 499.34L139.86 500.34L139.81 501.34L139.76 502.34L139.71 503.34L139.66 504.34L139.61 505.34L139.56 506.34L139.52 507.34L139.47 508.34L139.42 509.34L139.37 510.34L139.32 511.34L139.28 512.34L139.2 513.34L139.2 513.34Z" fill="#b14a55" stroke="#242424" stroke-width="1.25" stroke-linejoin="round"/>
<rect x="135.7" y="398.4" width="7" height="30" fill="#b14a55" stroke="#303030" stroke-width="1.15"/>
<line x1="135.7" x2="142.7" y1="414.3" y2="414.3" stroke="#303030" stroke-width="2.1"/>
<g fill="#d2a038" fill-opacity="0.5" stroke="#d2a038" stroke-opacity="0.7" stroke-width="0.55"><circle cx="184.1" cy="333.6" r="1.55"/><circle cx="185.1" cy="359" r="1.55"/><circle cx="190.8" cy="364.5" r="1.55"/><circle cx="187.6" cy="367" r="1.55"/><circle cx="181.3" cy="369.5" r="1.55"/><circle cx="183.8" cy="465.8" r="1.55"/><circle cx="186.6" cy="465.3" r="1.55"/><circle cx="189.6" cy="464.1" r="1.55"/><circle cx="188.8" cy="473.4" r="1.55"/><circle cx="186.3" cy="479.1" r="1.55"/><circle cx="188.3" cy="482.6" r="1.55"/><circle cx="182" cy="452" r="1.55"/><circle cx="186" cy="455" r="1.55"/><circle cx="193" cy="452.5" r="1.55"/><circle cx="190" cy="457" r="1.55"/><circle cx="192.73" cy="407.79" r="1.55"/><circle cx="192.7" cy="420.31" r="1.55"/><circle cx="190.93" cy="425.23" r="1.55"/><circle cx="193.77" cy="397.64" r="1.55"/><circle cx="182.58" cy="411.47" r="1.55"/><circle cx="183.24" cy="415.26" r="1.55"/><circle cx="192.12" cy="390.25" r="1.55"/><circle cx="194.39" cy="384.15" r="1.55"/><circle cx="190.64" cy="430.96" r="1.55"/><circle cx="182.52" cy="411.03" r="1.55"/><circle cx="185.92" cy="443.15" r="1.55"/><circle cx="187.94" cy="411.36" r="1.55"/><circle cx="186.45" cy="406.75" r="1.55"/><circle cx="187.75" cy="408.12" r="1.55"/><circle cx="184.94" cy="418.95" r="1.55"/><circle cx="190.05" cy="430.73" r="1.55"/><circle cx="181.18" cy="424.55" r="1.55"/><circle cx="186.96" cy="412.29" r="1.55"/><circle cx="185.43" cy="399.83" r="1.55"/><circle cx="190.91" cy="443" r="1.55"/><circle cx="192.21" cy="403.93" r="1.55"/><circle cx="187.55" cy="431.3" r="1.55"/><circle cx="182.84" cy="383.52" r="1.55"/><circle cx="185.69" cy="379.88" r="1.55"/><circle cx="192.56" cy="431.54" r="1.55"/><circle cx="182.29" cy="403.64" r="1.55"/><circle cx="184.19" cy="439.42" r="1.55"/><circle cx="188.82" cy="412.62" r="1.55"/><circle cx="187.39" cy="410.88" r="1.55"/><circle cx="185.53" cy="403.02" r="1.55"/><circle cx="193.09" cy="450.04" r="1.55"/><circle cx="190.97" cy="383.13" r="1.55"/><circle cx="188.05" cy="390.13" r="1.55"/><circle cx="185.45" cy="438.5" r="1.55"/><circle cx="193.27" cy="401.01" r="1.55"/><circle cx="183.58" cy="445.03" r="1.55"/><circle cx="185.4" cy="400.94" r="1.55"/><circle cx="185.75" cy="421.55" r="1.55"/><circle cx="185.09" cy="439.94" r="1.55"/><circle cx="191.94" cy="429.97" r="1.55"/><circle cx="194.5" cy="411.85" r="1.55"/><circle cx="182.5" cy="450.64" r="1.55"/><circle cx="182.27" cy="391.67" r="1.55"/><circle cx="192.27" cy="422.73" r="1.55"/><circle cx="188.26" cy="386.4" r="1.55"/><circle cx="193.33" cy="443.48" r="1.55"/><circle cx="191.16" cy="409.73" r="1.55"/><circle cx="194.03" cy="376.09" r="1.55"/><circle cx="191.28" cy="416.05" r="1.55"/><circle cx="186.18" cy="427.57" r="1.55"/><circle cx="187.72" cy="405.57" r="1.55"/><circle cx="188.9" cy="428.5" r="1.55"/><circle cx="188.59" cy="439" r="1.55"/><circle cx="193.21" cy="415.14" r="1.55"/><circle cx="188.81" cy="381.98" r="1.55"/><circle cx="182.5" cy="434.71" r="1.55"/><circle cx="193.4" cy="449.23" r="1.55"/><circle cx="182.98" cy="424.78" r="1.55"/><circle cx="190.39" cy="402.7" r="1.55"/><circle cx="191.12" cy="386.66" r="1.55"/><circle cx="184.96" cy="416.5" r="1.55"/><circle cx="192.98" cy="431.58" r="1.55"/><circle cx="194.21" cy="433.14" r="1.55"/><circle cx="184.79" cy="442.53" r="1.55"/><circle cx="194.37" cy="435.59" r="1.55"/><circle cx="184.9" cy="401.03" r="1.55"/><circle cx="187.63" cy="417.4" r="1.55"/><circle cx="184.88" cy="429.27" r="1.55"/><circle cx="190.98" cy="448.28" r="1.55"/><circle cx="189.76" cy="413.21" r="1.55"/><circle cx="183.06" cy="438.88" r="1.55"/><circle cx="185.83" cy="398.31" r="1.55"/><circle cx="190.23" cy="389.87" r="1.55"/><circle cx="192.79" cy="438.23" r="1.55"/><circle cx="193.22" cy="390.53" r="1.55"/><circle cx="190.28" cy="385.11" r="1.55"/><circle cx="181.58" cy="401.74" r="1.55"/><circle cx="193.65" cy="386.6" r="1.55"/><circle cx="188.12" cy="390.51" r="1.55"/><circle cx="191.19" cy="421.64" r="1.55"/><circle cx="191.6" cy="415.92" r="1.55"/><circle cx="193.93" cy="399.21" r="1.55"/><circle cx="188.46" cy="401.86" r="1.55"/><circle cx="192.56" cy="435.64" r="1.55"/><circle cx="194.65" cy="388.56" r="1.55"/><circle cx="191.1" cy="400.92" r="1.55"/><circle cx="193.88" cy="419.08" r="1.55"/><circle cx="186.65" cy="432.99" r="1.55"/><circle cx="181.85" cy="394.26" r="1.55"/><circle cx="181.8" cy="421.87" r="1.55"/><circle cx="181.5" cy="394.02" r="1.55"/><circle cx="191.74" cy="433.51" r="1.55"/><circle cx="181.04" cy="399.09" r="1.55"/><circle cx="191.42" cy="414.82" r="1.55"/><circle cx="192.03" cy="420.51" r="1.55"/><circle cx="193.52" cy="436.63" r="1.55"/><circle cx="193.17" cy="437.62" r="1.55"/><circle cx="189.18" cy="428.54" r="1.55"/><circle cx="187.29" cy="414.62" r="1.55"/><circle cx="180.21" cy="389.51" r="1.55"/><circle cx="182.68" cy="419.64" r="1.55"/><circle cx="193.93" cy="379.3" r="1.55"/><circle cx="190.72" cy="411.57" r="1.55"/><circle cx="181.18" cy="416.35" r="1.55"/><circle cx="180.34" cy="402.65" r="1.55"/><circle cx="190.9" cy="398.62" r="1.55"/><circle cx="190.49" cy="382.22" r="1.55"/><circle cx="190.61" cy="386.02" r="1.55"/><circle cx="188.76" cy="421.76" r="1.55"/><circle cx="192.82" cy="433.49" r="1.55"/><circle cx="192.13" cy="392.37" r="1.55"/><circle cx="192.5" cy="387.08" r="1.55"/><circle cx="180.08" cy="410.02" r="1.55"/><circle cx="192.9" cy="425.92" r="1.55"/><circle cx="187.78" cy="417.82" r="1.55"/><circle cx="189.74" cy="441.91" r="1.55"/><circle cx="182.55" cy="443.86" r="1.55"/><circle cx="186.37" cy="396.18" r="1.55"/><circle cx="190.96" cy="419.71" r="1.55"/><circle cx="189.65" cy="432.54" r="1.55"/><circle cx="194.77" cy="375.49" r="1.55"/><circle cx="183.73" cy="374.01" r="1.55"/><circle cx="180.4" cy="399.23" r="1.55"/><circle cx="194.68" cy="375.62" r="1.55"/><circle cx="183.4" cy="379.89" r="1.55"/><circle cx="186.27" cy="432.16" r="1.55"/><circle cx="190.75" cy="419.37" r="1.55"/><circle cx="188.53" cy="412.53" r="1.55"/><circle cx="190.34" cy="383.74" r="1.55"/><circle cx="193.87" cy="372.6" r="1.55"/><circle cx="192.91" cy="422.48" r="1.55"/><circle cx="183.27" cy="381.66" r="1.55"/><circle cx="185.71" cy="442.53" r="1.55"/><circle cx="185.93" cy="450.71" r="1.55"/><circle cx="188.05" cy="408.21" r="1.55"/></g>
<path d="M208.4 310.46L208.4 310.46L208.43 311.46L208.45 312.46L208.47 313.46L208.49 314.46L208.52 315.46L208.54 316.46L208.56 317.46L208.59 318.46L208.61 319.46L208.64 320.46L208.66 321.46L208.68 322.46L208.71 323.46L208.73 324.46L208.75 325.46L208.78 326.46L208.8 327.46L208.82 328.46L208.85 329.46L208.87 330.46L208.89 331.46L208.92 332.46L208.94 333.46L208.96 334.46L208.98 335.46L209 336.46L209.02 337.46L209.04 338.46L209.07 339.46L209.09 340.46L209.11 341.46L209.13 342.46L209.15 343.46L209.17 344.46L209.2 345.46L209.22 346.46L209.24 347.46L209.27 348.46L209.32 349.46L209.37 350.46L209.45 351.46L209.54 352.46L209.7 353.46L209.93 354.46L210.28 355.46L210.7 356.46L211.18 357.46L211.67 358.46L212.17 359.46L212.67 360.46L213.17 361.46L213.67 362.46L214.17 363.46L214.67 364.46L215.15 365.46L215.6 366.46L216.02 367.46L216.4 368.46L216.75 369.46L217.09 370.46L217.42 371.46L217.75 372.46L218.05 373.46L218.33 374.46L218.56 375.46L218.76 376.46L218.94 377.46L219.11 378.46L219.29 379.46L219.5 380.46L219.77 381.46L220.14 382.46L220.62 383.46L221.16 384.46L221.75 385.46L222.34 386.46L222.95 387.46L223.56 388.46L224.18 389.46L224.82 390.46L225.47 391.46L226.13 392.46L226.8 393.46L227.46 394.46L228.12 395.46L228.76 396.46L229.38 397.46L229.97 398.46L230.54 399.46L231.09 400.46L231.64 401.46L232.17 402.46L232.66 403.46L233.08 404.46L233.45 405.46L233.75 406.46L233.98 407.46L234.14 408.46L234.23 409.46L234.25 410.46L234.23 411.46L234.15 412.46L233.99 413.46L233.75 414.46L233.46 415.46L233.14 416.46L232.81 417.46L232.47 418.46L232.12 419.46L231.75 420.46L231.36 421.46L230.95 422.46L230.52 423.46L230.09 424.46L229.65 425.46L229.19 426.46L228.71 427.46L228.17 428.46L227.57 429.46L226.93 430.46L226.28 431.46L225.61 432.46L224.96 433.46L224.31 434.46L223.7 435.46L223.13 436.46L222.6 437.46L222.08 438.46L221.58 439.46L221.08 440.46L220.58 441.46L220.1 442.46L219.62 443.46L219.15 444.46L218.69 445.46L218.24 446.46L217.79 447.46L217.34 448.46L216.89 449.46L216.45 450.46L216.01 451.46L215.61 452.46L215.24 453.46L214.92 454.46L214.64 455.46L214.39 456.46L214.13 457.46L213.88 458.46L213.63 459.46L213.38 460.46L213.14 461.46L212.91 462.46L212.69 463.46L212.49 464.46L212.3 465.46L212.12 466.46L211.94 467.46L211.77 468.46L211.59 469.46L211.42 470.46L211.25 471.46L211.09 472.46L210.95 473.46L210.82 474.46L210.71 475.46L210.6 476.46L210.5 477.46L210.4 478.46L210.3 479.46L210.2 480.46L210.1 481.46L210.01 482.46L209.92 483.46L209.83 484.46L209.76 485.46L209.68 486.46L209.6 487.46L209.53 488.46L209.45 489.46L209.38 490.46L209.3 491.46L209.23 492.46L209.16 493.46L209.09 494.46L209.03 495.46L208.96 496.46L208.9 497.46L208.83 498.46L208.77 499.46L208.71 500.46L208.64 501.46L208.58 502.46L208.52 503.46L208.47 504.46L208.4 504.96L208.4 504.96Z" fill="#d2a038" stroke="#242424" stroke-width="1.25" stroke-linejoin="round"/>
<rect x="204.7" y="397.9" width="7.5" height="29.5" fill="#d2a038" stroke="#303030" stroke-width="1.15"/>
<line x1="204.7" x2="212.2" y1="411.8" y2="411.8" stroke="#303030" stroke-width="2.1"/>
<g fill="#7f7f7f" fill-opacity="0.5" stroke="#7f7f7f" stroke-opacity="0.7" stroke-width="0.55"><circle cx="253.66" cy="339.35" r="1.55"/><circle cx="256.67" cy="347.89" r="1.55"/><circle cx="253.66" cy="358.2" r="1.55"/><circle cx="253.66" cy="361.21" r="1.55"/><circle cx="251.65" cy="365.73" r="1.55"/><circle cx="252.4" cy="370.01" r="1.55"/><circle cx="258.18" cy="372.52" r="1.55"/><circle cx="254.16" cy="375.78" r="1.55"/><circle cx="255.67" cy="385.83" r="1.55"/><circle cx="250.39" cy="389.1" r="1.55"/><circle cx="263.71" cy="390.86" r="1.55"/><circle cx="254.91" cy="387.59" r="1.55"/><circle cx="255.42" cy="394.63" r="1.55"/><circle cx="251.15" cy="397.14" r="1.55"/><circle cx="257.43" cy="398.9" r="1.55"/><circle cx="252.4" cy="399.65" r="1.55"/><circle cx="251.15" cy="403.42" r="1.55"/><circle cx="251.15" cy="403.75" r="1.55"/><circle cx="256.67" cy="407.27" r="1.55"/><circle cx="254.41" cy="410.54" r="1.55"/><circle cx="259.94" cy="411.29" r="1.55"/><circle cx="258.18" cy="412.55" r="1.55"/><circle cx="250.64" cy="419.33" r="1.55"/><circle cx="258.68" cy="418.83" r="1.55"/><circle cx="259.44" cy="421.84" r="1.55"/><circle cx="251.65" cy="431.89" r="1.55"/><circle cx="254.41" cy="433.9" r="1.55"/><circle cx="261.2" cy="433.9" r="1.55"/><circle cx="263.71" cy="433.15" r="1.55"/><circle cx="262.45" cy="436.42" r="1.55"/><circle cx="251.65" cy="435.16" r="1.55"/><circle cx="256.92" cy="441.44" r="1.55"/><circle cx="262.45" cy="449.48" r="1.55"/><circle cx="250.14" cy="457.02" r="1.55"/><circle cx="258.68" cy="419.58" r="1.55"/><circle cx="257.68" cy="419.08" r="1.55"/></g>
<path d="M277.5 301.16L277.5 301.16L277.55 302.16L277.58 303.16L277.62 304.16L277.66 305.16L277.7 306.16L277.74 307.16L277.79 308.16L277.83 309.16L277.88 310.16L277.94 311.16L278 312.16L278.07 313.16L278.14 314.16L278.21 315.16L278.29 316.16L278.37 317.16L278.46 318.16L278.59 319.16L278.75 320.16L278.94 321.16L279.15 322.16L279.37 323.16L279.59 324.16L279.81 325.16L280.03 326.16L280.25 327.16L280.47 328.16L280.69 329.16L280.92 330.16L281.15 331.16L281.41 332.16L281.69 333.16L281.98 334.16L282.27 335.16L282.57 336.16L282.87 337.16L283.17 338.16L283.47 339.16L283.77 340.16L284.07 341.16L284.37 342.16L284.67 343.16L284.97 344.16L285.27 345.16L285.57 346.16L285.87 347.16L286.17 348.16L286.47 349.16L286.77 350.16L287.07 351.16L287.37 352.16L287.67 353.16L287.97 354.16L288.27 355.16L288.57 356.16L288.87 357.16L289.17 358.16L289.47 359.16L289.77 360.16L290.07 361.16L290.37 362.16L290.67 363.16L290.97 364.16L291.27 365.16L291.57 366.16L291.87 367.16L292.17 368.16L292.47 369.16L292.77 370.16L293.07 371.16L293.37 372.16L293.67 373.16L293.97 374.16L294.27 375.16L294.57 376.16L294.87 377.16L295.17 378.16L295.47 379.16L295.78 380.16L296.08 381.16L296.4 382.16L296.73 383.16L297.06 384.16L297.4 385.16L297.74 386.16L298.08 387.16L298.42 388.16L298.76 389.16L299.1 390.16L299.44 391.16L299.77 392.16L300.1 393.16L300.42 394.16L300.71 395.16L300.97 396.16L301.23 397.16L301.47 398.16L301.72 399.16L301.96 400.16L302.2 401.16L302.44 402.16L302.66 403.16L302.86 404.16L303.05 405.16L303.21 406.16L303.37 407.16L303.51 408.16L303.65 409.16L303.75 410.16L303.82 411.16L303.86 412.16L303.88 413.16L303.88 414.16L303.88 415.16L303.87 416.16L303.83 417.16L303.77 418.16L303.66 419.16L303.52 420.16L303.36 421.16L303.2 422.16L303.02 423.16L302.83 424.16L302.59 425.16L302.3 426.16L301.95 427.16L301.55 428.16L301.15 429.16L300.73 430.16L300.31 431.16L299.88 432.16L299.43 433.16L298.96 434.16L298.47 435.16L297.98 436.16L297.48 437.16L296.98 438.16L296.47 439.16L295.96 440.16L295.43 441.16L294.9 442.16L294.35 443.16L293.81 444.16L293.25 445.16L292.7 446.16L292.13 447.16L291.55 448.16L290.94 449.16L290.3 450.16L289.66 451.16L289.01 452.16L288.37 453.16L287.73 454.16L287.12 455.16L286.54 456.16L286 457.16L285.48 458.16L284.97 459.16L284.47 460.16L283.98 461.16L283.51 462.16L283.06 463.16L282.65 464.16L282.27 465.16L281.9 466.16L281.55 467.16L281.21 468.16L280.87 469.16L280.55 470.16L280.27 471.16L280.03 472.16L279.81 473.16L279.6 474.16L279.4 475.16L279.21 476.16L279.02 477.16L278.85 478.16L278.71 479.16L278.59 480.16L278.48 481.16L278.38 482.16L278.28 483.16L278.18 484.16L278.09 485.16L278.01 486.16L277.94 487.16L277.88 488.16L277.83 489.16L277.77 490.16L277.72 491.16L277.67 492.16L277.61 493.16L277.57 494.16L277.5 495.16L277.5 495.16Z" fill="#7f7f7f" stroke="#242424" stroke-width="1.25" stroke-linejoin="round"/>
<rect x="274" y="387.8" width="7.3" height="41.1" fill="#7f7f7f" stroke="#303030" stroke-width="1.15"/>
<line x1="274" x2="281.3" y1="408.5" y2="408.5" stroke="#303030" stroke-width="2.1"/>
<rect x="29.6" y="291.6" width="286.9" height="232.5" fill="none" stroke="#3c3c3c" stroke-width="1.1"/>
<line x1="27.4" x2="29.6" y1="314.5" y2="314.5" stroke="#333" stroke-width="0.8"/>
<text x="26.4" y="318.6" text-anchor="end" class="tk">2</text>
<line x1="27.4" x2="29.6" y1="359" y2="359" stroke="#333" stroke-width="0.8"/>
<text x="26.4" y="363.1" text-anchor="end" class="tk">1</text>
<line x1="27.4" x2="29.6" y1="403.5" y2="403.5" stroke="#333" stroke-width="0.8"/>
<text x="26.4" y="407.6" text-anchor="end" class="tk">0</text>
<line x1="27.4" x2="29.6" y1="448" y2="448" stroke="#333" stroke-width="0.8"/>
<text x="26.4" y="452.1" text-anchor="end" class="tk">-1</text>
<line x1="27.4" x2="29.6" y1="492.5" y2="492.5" stroke="#333" stroke-width="0.8"/>
<text x="26.4" y="496.6" text-anchor="end" class="tk">-2</text>
<line x1="62.8" x2="62.8" y1="524.1" y2="526.3" stroke="#333" stroke-width="0.8"/>
<text x="62.8" y="534.9" text-anchor="middle" class="cat">HC</text>
<line x1="132.2" x2="132.2" y1="524.1" y2="526.3" stroke="#333" stroke-width="0.8"/>
<text x="132.2" y="534.9" text-anchor="middle" class="cat">SCD</text>
<line x1="201.6" x2="201.6" y1="524.1" y2="526.3" stroke="#333" stroke-width="0.8"/>
<text x="201.6" y="534.9" text-anchor="middle" class="cat">MCI</text>
<line x1="271" x2="271" y1="524.1" y2="526.3" stroke="#333" stroke-width="0.8"/>
<text x="271" y="534.9" text-anchor="middle" class="cat">AD</text>
<text transform="translate(12 407.9) rotate(-90)" text-anchor="middle" class="yt">lgdWMH</text>
<text x="1.9" y="288" class="pl">C</text>
</g>
<g>
<rect x="378.7" y="293.1" width="287.1" height="232.5" fill="#fff"/>
<line x1="378.7" x2="665.8" y1="310.2" y2="310.2" stroke="#f2f2f2" stroke-width="0.5"/>
<line x1="378.7" x2="665.8" y1="355" y2="355" stroke="#f2f2f2" stroke-width="0.5"/>
<line x1="378.7" x2="665.8" y1="399.7" y2="399.7" stroke="#f2f2f2" stroke-width="0.5"/>
<line x1="378.7" x2="665.8" y1="444.4" y2="444.4" stroke="#f2f2f2" stroke-width="0.5"/>
<line x1="378.7" x2="665.8" y1="489.2" y2="489.2" stroke="#f2f2f2" stroke-width="0.5"/>
<line x1="446.6" x2="446.6" y1="293.1" y2="525.6" stroke="#f2f2f2" stroke-width="0.5"/>
<line x1="516" x2="516" y1="293.1" y2="525.6" stroke="#f2f2f2" stroke-width="0.5"/>
<line x1="585.4" x2="585.4" y1="293.1" y2="525.6" stroke="#f2f2f2" stroke-width="0.5"/>
<line x1="654.9" x2="654.9" y1="293.1" y2="525.6" stroke="#f2f2f2" stroke-width="0.5"/>
<line x1="378.7" x2="665.8" y1="332.6" y2="332.6" stroke="#e9e9e9" stroke-width="0.75"/>
<line x1="378.7" x2="665.8" y1="377.4" y2="377.4" stroke="#e9e9e9" stroke-width="0.75"/>
<line x1="378.7" x2="665.8" y1="422.1" y2="422.1" stroke="#e9e9e9" stroke-width="0.75"/>
<line x1="378.7" x2="665.8" y1="466.8" y2="466.8" stroke="#e9e9e9" stroke-width="0.75"/>
<line x1="378.7" x2="665.8" y1="511.5" y2="511.5" stroke="#e9e9e9" stroke-width="0.75"/>
<line x1="411.9" x2="411.9" y1="293.1" y2="525.6" stroke="#e9e9e9" stroke-width="0.75"/>
<line x1="481.3" x2="481.3" y1="293.1" y2="525.6" stroke="#e9e9e9" stroke-width="0.75"/>
<line x1="550.7" x2="550.7" y1="293.1" y2="525.6" stroke="#e9e9e9" stroke-width="0.75"/>
<line x1="620.2" x2="620.2" y1="293.1" y2="525.6" stroke="#e9e9e9" stroke-width="0.75"/>
<line x1="425.4" x2="627.3" y1="297.6" y2="297.6" stroke="#333333" stroke-width="1.3"/>
<text x="544" y="301.1" text-anchor="middle" class="st">***</text>
<line x1="492.5" x2="623.6" y1="302.4" y2="302.4" stroke="#333333" stroke-width="1.3"/>
<text x="552.8" y="305.9" text-anchor="middle" class="st">***</text>
<line x1="554.5" x2="622.8" y1="307.2" y2="307.2" stroke="#333333" stroke-width="1.3"/>
<text x="586.6" y="310.7" text-anchor="middle" class="st">**</text>
<g fill="#86b04f" fill-opacity="0.5" stroke="#86b04f" stroke-opacity="0.7" stroke-width="0.55"><circle cx="397.8" cy="371.5" r="1.55"/><circle cx="392" cy="376.3" r="1.55"/><circle cx="402.5" cy="376.5" r="1.55"/><circle cx="405" cy="378.8" r="1.55"/><circle cx="395.8" cy="379.6" r="1.55"/><circle cx="395" cy="420.6" r="1.55"/><circle cx="398.3" cy="430.6" r="1.55"/><circle cx="403.3" cy="433.2" r="1.55"/><circle cx="400.8" cy="433.7" r="1.55"/><circle cx="405" cy="450.2" r="1.55"/><circle cx="397.8" cy="454" r="1.55"/><circle cx="401.55" cy="407.76" r="1.55"/><circle cx="401.8" cy="397.84" r="1.55"/><circle cx="399.8" cy="399.71" r="1.55"/><circle cx="392.54" cy="402.15" r="1.55"/><circle cx="403.87" cy="386.59" r="1.55"/><circle cx="392.49" cy="410.33" r="1.55"/><circle cx="403.2" cy="403.93" r="1.55"/><circle cx="391.07" cy="401.8" r="1.55"/><circle cx="392.63" cy="399.59" r="1.55"/><circle cx="398.6" cy="402.76" r="1.55"/><circle cx="401.77" cy="402.33" r="1.55"/><circle cx="401.62" cy="406.5" r="1.55"/><circle cx="399.34" cy="386.9" r="1.55"/><circle cx="403.19" cy="406.15" r="1.55"/><circle cx="399.46" cy="399.05" r="1.55"/><circle cx="404.98" cy="406.68" r="1.55"/><circle cx="394.49" cy="392.32" r="1.55"/><circle cx="394.95" cy="392.86" r="1.55"/><circle cx="404.09" cy="404" r="1.55"/><circle cx="401.4" cy="406.74" r="1.55"/><circle cx="395.18" cy="392.97" r="1.55"/><circle cx="397.04" cy="394.54" r="1.55"/><circle cx="394.52" cy="399.52" r="1.55"/><circle cx="392.16" cy="413.53" r="1.55"/><circle cx="402.98" cy="409.55" r="1.55"/><circle cx="398.03" cy="397.92" r="1.55"/><circle cx="405.74" cy="395.7" r="1.55"/><circle cx="402.35" cy="409.26" r="1.55"/><circle cx="401.4" cy="398.15" r="1.55"/><circle cx="399.71" cy="396.38" r="1.55"/><circle cx="396.65" cy="408.76" r="1.55"/><circle cx="402.02" cy="402.64" r="1.55"/></g>
<path d="M419.1 355.3L419.1 355.3L419.31 356.3L419.46 357.3L419.63 358.3L419.82 359.3L420.03 360.3L420.27 361.3L420.55 362.3L420.88 363.3L421.3 364.3L421.83 365.3L422.45 366.3L423.14 367.3L423.85 368.3L424.55 369.3L425.23 370.3L425.85 371.3L426.44 372.3L427 373.3L427.53 374.3L428.04 375.3L428.51 376.3L428.9 377.3L429.24 378.3L429.57 379.3L429.95 380.3L430.44 381.3L431.06 382.3L431.79 383.3L432.63 384.3L433.58 385.3L434.64 386.3L435.77 387.3L436.93 388.3L438.1 389.3L439.26 390.3L440.39 391.3L441.47 392.3L442.48 393.3L443.37 394.3L444.13 395.3L444.72 396.3L445.11 397.3L445.29 398.3L445.25 399.3L445.03 400.3L444.63 401.3L444.08 402.3L443.39 403.3L442.57 404.3L441.64 405.3L440.61 406.3L439.49 407.3L438.27 408.3L436.97 409.3L435.65 410.3L434.36 411.3L433.14 412.3L431.98 413.3L430.88 414.3L429.83 415.3L428.85 416.3L427.95 417.3L427.16 418.3L426.55 419.3L426.12 420.3L425.88 421.3L425.81 422.3L425.87 423.3L425.98 424.3L426.07 425.3L426.08 426.3L426.02 427.3L425.89 428.3L425.7 429.3L425.45 430.3L425.13 431.3L424.75 432.3L424.33 433.3L423.87 434.3L423.39 435.3L422.9 436.3L422.44 437.3L422.07 438.3L421.82 439.3L421.68 440.3L421.63 441.3L421.64 442.3L421.73 443.3L421.91 444.3L422.15 445.3L422.42 446.3L422.7 447.3L422.95 448.3L423.16 449.3L423.34 450.3L423.44 451.3L423.47 452.3L423.4 453.3L423.25 454.3L423.05 455.3L422.79 456.3L422.47 457.3L422.13 458.3L421.76 459.3L421.39 460.3L421.02 461.3L420.66 462.3L420.34 463.3L420.06 464.3L419.83 465.3L419.64 466.3L419.48 467.3L419.34 468.3L419.1 469.3L419.1 469.3Z" fill="#86b04f" stroke="#242424" stroke-width="1.25" stroke-linejoin="round"/>
<rect x="415.6" y="393.9" width="7.3" height="15.9" fill="#86b04f" stroke="#303030" stroke-width="1.15"/>
<line x1="415.6" x2="422.9" y1="398.4" y2="398.4" stroke="#303030" stroke-width="2.1"/>
<g fill="#b14a55" fill-opacity="0.5" stroke="#b14a55" stroke-opacity="0.7" stroke-width="0.55"><circle cx="460.6" cy="360.7" r="1.55"/><circle cx="465.4" cy="362.5" r="1.55"/><circle cx="473.9" cy="365" r="1.55"/><circle cx="463.1" cy="367.5" r="1.55"/><circle cx="463.1" cy="371.5" r="1.55"/><circle cx="466.6" cy="375.8" r="1.55"/><circle cx="464.9" cy="447" r="1.55"/><circle cx="468.1" cy="476.4" r="1.55"/><circle cx="462.3" cy="420.5" r="1.55"/><circle cx="462.6" cy="423.5" r="1.55"/><circle cx="462.2" cy="426.5" r="1.55"/><circle cx="462.5" cy="429.5" r="1.55"/><circle cx="462.1" cy="432" r="1.55"/><circle cx="461.8" cy="434.8" r="1.55"/><circle cx="474" cy="424" r="1.55"/><circle cx="473.5" cy="419.5" r="1.55"/><circle cx="469" cy="421.5" r="1.55"/><circle cx="467.5" cy="417" r="1.55"/><circle cx="460.78" cy="386.23" r="1.55"/><circle cx="469.57" cy="396.03" r="1.55"/><circle cx="472.98" cy="401.43" r="1.55"/><circle cx="469.2" cy="382.6" r="1.55"/><circle cx="463.26" cy="395.13" r="1.55"/><circle cx="469.56" cy="386.1" r="1.55"/><circle cx="465.54" cy="412.06" r="1.55"/><circle cx="468.17" cy="387.58" r="1.55"/><circle cx="470.01" cy="401.78" r="1.55"/><circle cx="472.62" cy="390.01" r="1.55"/><circle cx="467.9" cy="418.79" r="1.55"/><circle cx="473.69" cy="411.96" r="1.55"/><circle cx="462.55" cy="398.52" r="1.55"/><circle cx="460.29" cy="383.13" r="1.55"/><circle cx="469.08" cy="419.52" r="1.55"/><circle cx="470.1" cy="423.21" r="1.55"/><circle cx="469.33" cy="392.89" r="1.55"/><circle cx="460.81" cy="410.38" r="1.55"/><circle cx="469.27" cy="405.09" r="1.55"/><circle cx="464.17" cy="407.71" r="1.55"/><circle cx="472.93" cy="412.65" r="1.55"/><circle cx="471.03" cy="394.93" r="1.55"/><circle cx="464.61" cy="421.9" r="1.55"/><circle cx="465.84" cy="399.78" r="1.55"/><circle cx="468.77" cy="416.99" r="1.55"/><circle cx="466.15" cy="388.26" r="1.55"/><circle cx="461.86" cy="421.96" r="1.55"/><circle cx="470.09" cy="404.56" r="1.55"/><circle cx="473.9" cy="391.82" r="1.55"/><circle cx="460.09" cy="416.16" r="1.55"/><circle cx="464.84" cy="400.94" r="1.55"/><circle cx="470.03" cy="400.8" r="1.55"/><circle cx="472.8" cy="415.55" r="1.55"/><circle cx="474.89" cy="399.85" r="1.55"/><circle cx="471.61" cy="402.15" r="1.55"/><circle cx="460.59" cy="393.5" r="1.55"/><circle cx="473.91" cy="397.87" r="1.55"/><circle cx="471.63" cy="394.91" r="1.55"/><circle cx="463.63" cy="400.18" r="1.55"/><circle cx="471.39" cy="400.36" r="1.55"/><circle cx="471.79" cy="414.93" r="1.55"/><circle cx="467" cy="400.86" r="1.55"/><circle cx="462.73" cy="381.59" r="1.55"/><circle cx="467.57" cy="389.8" r="1.55"/><circle cx="470.77" cy="382.35" r="1.55"/><circle cx="461.42" cy="395.64" r="1.55"/><circle cx="470.21" cy="395.5" r="1.55"/><circle cx="464.1" cy="418.76" r="1.55"/><circle cx="471.35" cy="414.11" r="1.55"/><circle cx="460.59" cy="393.44" r="1.55"/><circle cx="471.74" cy="399.46" r="1.55"/><circle cx="467.68" cy="402.94" r="1.55"/><circle cx="464.71" cy="418.29" r="1.55"/><circle cx="465.18" cy="394.41" r="1.55"/><circle cx="461.43" cy="393.42" r="1.55"/><circle cx="469.61" cy="406.58" r="1.55"/><circle cx="470.51" cy="393.99" r="1.55"/><circle cx="463.94" cy="414.17" r="1.55"/><circle cx="464.69" cy="388.5" r="1.55"/><circle cx="469.86" cy="404.58" r="1.55"/><circle cx="461.46" cy="411.52" r="1.55"/><circle cx="469.92" cy="408.2" r="1.55"/><circle cx="467.09" cy="389.25" r="1.55"/><circle cx="472.18" cy="391.03" r="1.55"/><circle cx="470.38" cy="385.49" r="1.55"/><circle cx="461.94" cy="397.74" r="1.55"/><circle cx="471.14" cy="397.23" r="1.55"/><circle cx="469.4" cy="420.05" r="1.55"/><circle cx="474.34" cy="410.29" r="1.55"/><circle cx="469.73" cy="379.26" r="1.55"/><circle cx="463.84" cy="413.63" r="1.55"/><circle cx="461.46" cy="394.37" r="1.55"/></g>
<path d="M488.3 344.1L488.3 344.1L488.49 345.1L488.62 346.1L488.76 347.1L488.91 348.1L489.06 349.1L489.22 350.1L489.41 351.1L489.62 352.1L489.86 353.1L490.14 354.1L490.42 355.1L490.72 356.1L491.02 357.1L491.32 358.1L491.64 359.1L491.98 360.1L492.35 361.1L492.76 362.1L493.18 363.1L493.62 364.1L494.05 365.1L494.49 366.1L494.93 367.1L495.36 368.1L495.78 369.1L496.18 370.1L496.55 371.1L496.89 372.1L497.2 373.1L497.5 374.1L497.79 375.1L498.09 376.1L498.38 377.1L498.68 378.1L498.99 379.1L499.33 380.1L499.72 381.1L500.16 382.1L500.63 383.1L501.14 384.1L501.69 385.1L502.31 386.1L503.06 387.1L503.95 388.1L504.95 389.1L506.02 390.1L507.13 391.1L508.25 392.1L509.38 393.1L510.47 394.1L511.5 395.1L512.41 396.1L513.16 397.1L513.71 398.1L514.01 399.1L514.07 400.1L513.86 401.1L513.43 402.1L512.78 403.1L511.97 404.1L511.06 405.1L510.09 406.1L509.11 407.1L508.13 408.1L507.18 409.1L506.27 410.1L505.41 411.1L504.57 412.1L503.74 413.1L502.92 414.1L502.11 415.1L501.32 416.1L500.53 417.1L499.75 418.1L498.99 419.1L498.23 420.1L497.51 421.1L496.83 422.1L496.19 423.1L495.59 424.1L495.02 425.1L494.46 426.1L493.94 427.1L493.47 428.1L493.06 429.1L492.69 430.1L492.36 431.1L492.04 432.1L491.74 433.1L491.47 434.1L491.23 435.1L491.03 436.1L490.84 437.1L490.65 438.1L490.47 439.1L490.29 440.1L490.12 441.1L489.97 442.1L489.85 443.1L489.74 444.1L489.64 445.1L489.55 446.1L489.46 447.1L489.38 448.1L489.31 449.1L489.26 450.1L489.24 451.1L489.23 452.1L489.24 453.1L489.25 454.1L489.26 455.1L489.28 456.1L489.29 457.1L489.3 458.1L489.32 459.1L489.33 460.1L489.34 461.1L489.35 462.1L489.36 463.1L489.38 464.1L489.38 465.1L489.38 466.1L489.37 467.1L489.36 468.1L489.35 469.1L489.33 470.1L489.32 471.1L489.3 472.1L489.28 473.1L489.27 474.1L489.25 475.1L489.23 476.1L489.21 477.1L489.18 478.1L489.14 479.1L489.08 480.1L489.02 481.1L488.96 482.1L488.89 483.1L488.83 484.1L488.76 485.1L488.7 486.1L488.63 487.1L488.57 488.1L488.5 489.1L488.44 490.1L488.39 491.1L488.3 492.1L488.3 492.1Z" fill="#b14a55" stroke="#242424" stroke-width="1.25" stroke-linejoin="round"/>
<rect x="484.5" y="392.1" width="7.5" height="17.7" fill="#b14a55" stroke="#303030" stroke-width="1.15"/>
<line x1="484.5" x2="492" y1="399.7" y2="399.7" stroke="#303030" stroke-width="2.1"/>
<g fill="#d2a038" fill-opacity="0.5" stroke="#d2a038" stroke-opacity="0.7" stroke-width="0.55"><circle cx="540.1" cy="349.4" r="1.55"/><circle cx="538.9" cy="356.4" r="1.55"/><circle cx="542.6" cy="358" r="1.55"/><circle cx="538.1" cy="360" r="1.55"/><circle cx="540.6" cy="441.2" r="1.55"/><circle cx="537.6" cy="443.2" r="1.55"/><circle cx="533.9" cy="452" r="1.55"/><circle cx="543.2" cy="455" r="1.55"/><circle cx="535.6" cy="456.5" r="1.55"/><circle cx="536.9" cy="457" r="1.55"/><circle cx="534.6" cy="497.7" r="1.55"/><circle cx="531" cy="433" r="1.55"/><circle cx="533.5" cy="435" r="1.55"/><circle cx="540" cy="428" r="1.55"/><circle cx="539.24" cy="393.32" r="1.55"/><circle cx="536.25" cy="398.58" r="1.55"/><circle cx="537.52" cy="395.28" r="1.55"/><circle cx="533.25" cy="391.44" r="1.55"/><circle cx="542.54" cy="397.06" r="1.55"/><circle cx="533.37" cy="388.3" r="1.55"/><circle cx="533.86" cy="387.45" r="1.55"/><circle cx="543.74" cy="382.47" r="1.55"/><circle cx="532.59" cy="397.79" r="1.55"/><circle cx="542.41" cy="410.2" r="1.55"/><circle cx="542.15" cy="383.74" r="1.55"/><circle cx="536.3" cy="369.31" r="1.55"/><circle cx="533.82" cy="423.93" r="1.55"/><circle cx="532.86" cy="376.54" r="1.55"/><circle cx="541.23" cy="372.85" r="1.55"/><circle cx="539.15" cy="388.96" r="1.55"/><circle cx="533.28" cy="392.73" r="1.55"/><circle cx="540.53" cy="366.84" r="1.55"/><circle cx="540.04" cy="422.29" r="1.55"/><circle cx="532.83" cy="390.7" r="1.55"/><circle cx="538.26" cy="410.08" r="1.55"/><circle cx="540.28" cy="408.72" r="1.55"/><circle cx="530.64" cy="369.28" r="1.55"/><circle cx="530.02" cy="398.07" r="1.55"/><circle cx="532.97" cy="406.65" r="1.55"/><circle cx="531.46" cy="406.13" r="1.55"/><circle cx="541.75" cy="384.44" r="1.55"/><circle cx="543.42" cy="409.4" r="1.55"/><circle cx="529.47" cy="426.68" r="1.55"/><circle cx="532.89" cy="392.72" r="1.55"/><circle cx="542.25" cy="424.86" r="1.55"/><circle cx="532.32" cy="393.8" r="1.55"/><circle cx="537.23" cy="394.55" r="1.55"/><circle cx="534.82" cy="403.07" r="1.55"/><circle cx="529.69" cy="383.27" r="1.55"/><circle cx="535.13" cy="395.99" r="1.55"/><circle cx="537.93" cy="420.04" r="1.55"/><circle cx="530.25" cy="381.05" r="1.55"/><circle cx="538.82" cy="376.46" r="1.55"/><circle cx="535.38" cy="401.8" r="1.55"/><circle cx="540.3" cy="399.12" r="1.55"/><circle cx="529.37" cy="378.8" r="1.55"/><circle cx="542.19" cy="415.64" r="1.55"/><circle cx="533.88" cy="422.41" r="1.55"/><circle cx="538.24" cy="410.23" r="1.55"/><circle cx="537.85" cy="425.98" r="1.55"/><circle cx="534.88" cy="386.74" r="1.55"/><circle cx="538.02" cy="416.61" r="1.55"/><circle cx="540.35" cy="377.36" r="1.55"/><circle cx="533.91" cy="404.01" r="1.55"/><circle cx="543.55" cy="410.02" r="1.55"/><circle cx="531.63" cy="364.99" r="1.55"/><circle cx="532.06" cy="414.32" r="1.55"/><circle cx="543.06" cy="369.78" r="1.55"/><circle cx="532.47" cy="381.48" r="1.55"/><circle cx="544.39" cy="393.81" r="1.55"/><circle cx="542.78" cy="398.71" r="1.55"/><circle cx="529.87" cy="380.19" r="1.55"/><circle cx="542.43" cy="384.64" r="1.55"/><circle cx="543.01" cy="367.28" r="1.55"/><circle cx="536.3" cy="389.58" r="1.55"/><circle cx="540.29" cy="413.38" r="1.55"/><circle cx="540.64" cy="385.4" r="1.55"/><circle cx="540.15" cy="363.48" r="1.55"/><circle cx="531.71" cy="414.97" r="1.55"/><circle cx="538.3" cy="374.32" r="1.55"/><circle cx="529.74" cy="381.97" r="1.55"/><circle cx="540.43" cy="387.92" r="1.55"/><circle cx="532.94" cy="374.82" r="1.55"/><circle cx="538.95" cy="416.2" r="1.55"/><circle cx="541.06" cy="396.88" r="1.55"/><circle cx="531.77" cy="383.54" r="1.55"/><circle cx="539.23" cy="408.5" r="1.55"/><circle cx="540.86" cy="408.24" r="1.55"/><circle cx="534.58" cy="418.78" r="1.55"/><circle cx="537.28" cy="404.76" r="1.55"/><circle cx="538.92" cy="403.66" r="1.55"/><circle cx="534.45" cy="400.87" r="1.55"/><circle cx="534.58" cy="417.51" r="1.55"/><circle cx="532.13" cy="390.45" r="1.55"/><circle cx="533.17" cy="370.4" r="1.55"/><circle cx="543.94" cy="390.06" r="1.55"/><circle cx="539.63" cy="392.14" r="1.55"/><circle cx="543.84" cy="398.61" r="1.55"/><circle cx="538.33" cy="385.89" r="1.55"/><circle cx="530.16" cy="407.72" r="1.55"/><circle cx="535.68" cy="417.11" r="1.55"/><circle cx="536.1" cy="399.15" r="1.55"/><circle cx="541.97" cy="397.63" r="1.55"/><circle cx="541.06" cy="396.58" r="1.55"/><circle cx="543.78" cy="373.95" r="1.55"/><circle cx="531.26" cy="375.71" r="1.55"/><circle cx="529.51" cy="369.1" r="1.55"/><circle cx="542.51" cy="390.85" r="1.55"/><circle cx="541.3" cy="386.22" r="1.55"/><circle cx="536.5" cy="377.52" r="1.55"/><circle cx="542.29" cy="390.28" r="1.55"/><circle cx="536.92" cy="369.02" r="1.55"/><circle cx="532.78" cy="422.65" r="1.55"/><circle cx="537.94" cy="412.19" r="1.55"/><circle cx="530.35" cy="423.29" r="1.55"/><circle cx="541.97" cy="380.92" r="1.55"/><circle cx="533.15" cy="415.86" r="1.55"/><circle cx="536.3" cy="389.3" r="1.55"/><circle cx="542.09" cy="387.96" r="1.55"/><circle cx="539.01" cy="392.78" r="1.55"/><circle cx="531.92" cy="364.26" r="1.55"/><circle cx="542.74" cy="415.54" r="1.55"/><circle cx="531" cy="408.36" r="1.55"/><circle cx="536.07" cy="376.42" r="1.55"/><circle cx="531.45" cy="413.85" r="1.55"/><circle cx="537.15" cy="409.55" r="1.55"/><circle cx="538.1" cy="379.13" r="1.55"/><circle cx="537.37" cy="403.54" r="1.55"/><circle cx="537.98" cy="410.06" r="1.55"/><circle cx="540.28" cy="379.32" r="1.55"/><circle cx="532.02" cy="406.78" r="1.55"/><circle cx="536.78" cy="415.29" r="1.55"/><circle cx="543.83" cy="391.59" r="1.55"/><circle cx="534.92" cy="380.73" r="1.55"/><circle cx="533.08" cy="430.91" r="1.55"/><circle cx="543.58" cy="380.04" r="1.55"/><circle cx="542.91" cy="384.34" r="1.55"/><circle cx="542.72" cy="405.49" r="1.55"/><circle cx="537.73" cy="413.05" r="1.55"/></g>
<path d="M557.5 331.2L557.5 331.2L557.57 332.2L557.62 333.2L557.67 334.2L557.73 335.2L557.78 336.2L557.84 337.2L557.9 338.2L557.96 339.2L558.03 340.2L558.09 341.2L558.17 342.2L558.25 343.2L558.33 344.2L558.45 345.2L558.62 346.2L558.87 347.2L559.2 348.2L559.58 349.2L559.99 350.2L560.42 351.2L560.88 352.2L561.4 353.2L561.96 354.2L562.56 355.2L563.18 356.2L563.8 357.2L564.41 358.2L565.02 359.2L565.6 360.2L566.13 361.2L566.62 362.2L567.07 363.2L567.51 364.2L567.94 365.2L568.37 366.2L568.81 367.2L569.27 368.2L569.76 369.2L570.31 370.2L570.96 371.2L571.72 372.2L572.56 373.2L573.46 374.2L574.38 375.2L575.31 376.2L576.27 377.2L577.24 378.2L578.22 379.2L579.14 380.2L579.95 381.2L580.62 382.2L581.17 383.2L581.65 384.2L582.08 385.2L582.46 386.2L582.78 387.2L583 388.2L583.14 389.2L583.22 390.2L583.27 391.2L583.29 392.2L583.28 393.2L583.21 394.2L583.09 395.2L582.93 396.2L582.74 397.2L582.51 398.2L582.23 399.2L581.86 400.2L581.37 401.2L580.72 402.2L579.89 403.2L578.91 404.2L577.8 405.2L576.59 406.2L575.36 407.2L574.18 408.2L573.07 409.2L572.02 410.2L571.02 411.2L570.05 412.2L569.14 413.2L568.35 414.2L567.67 415.2L567.12 416.2L566.66 417.2L566.29 418.2L566.02 419.2L565.81 420.2L565.63 421.2L565.45 422.2L565.25 423.2L565.04 424.2L564.83 425.2L564.63 426.2L564.45 427.2L564.27 428.2L564.06 429.2L563.81 430.2L563.51 431.2L563.19 432.2L562.87 433.2L562.56 434.2L562.28 435.2L562 436.2L561.73 437.2L561.47 438.2L561.22 439.2L560.99 440.2L560.79 441.2L560.62 442.2L560.47 443.2L560.33 444.2L560.2 445.2L560.07 446.2L559.94 447.2L559.82 448.2L559.7 449.2L559.59 450.2L559.48 451.2L559.38 452.2L559.27 453.2L559.17 454.2L559.06 455.2L558.95 456.2L558.83 457.2L558.71 458.2L558.59 459.2L558.47 460.2L558.36 461.2L558.26 462.2L558.18 463.2L558.13 464.2L558.11 465.2L558.1 466.2L558.1 467.2L558.1 468.2L558.1 469.2L558.1 470.2L558.1 471.2L558.1 472.2L558.1 473.2L558.1 474.2L558.1 475.2L558.1 476.2L558.1 477.2L558.1 478.2L558.1 479.2L558.1 480.2L558.1 481.2L558.1 482.2L558.1 483.2L558.1 484.2L558.1 485.2L558.1 486.2L558.1 487.2L558.1 488.2L558.1 489.2L558.1 490.2L558.1 491.2L558.1 492.2L558.1 493.2L558.1 494.2L558.1 495.2L558.1 496.2L558.09 497.2L558.08 498.2L558.06 499.2L558.04 500.2L558 501.2L557.97 502.2L557.94 503.2L557.9 504.2L557.86 505.2L557.83 506.2L557.79 507.2L557.76 508.2L557.72 509.2L557.69 510.2L557.65 511.2L557.62 512.2L557.59 513.2L557.56 514.2L557.5 515.2L557.5 515.2Z" fill="#d2a038" stroke="#242424" stroke-width="1.25" stroke-linejoin="round"/>
<rect x="554" y="382.1" width="7.2" height="22.9" fill="#d2a038" stroke="#303030" stroke-width="1.15"/>
<line x1="554" x2="561.2" y1="391.6" y2="391.6" stroke="#303030" stroke-width="2.1"/>
<g fill="#7f7f7f" fill-opacity="0.5" stroke="#7f7f7f" stroke-opacity="0.7" stroke-width="0.55"><circle cx="610.49" cy="324.53" r="1.55"/><circle cx="599.68" cy="352.42" r="1.55"/><circle cx="599.43" cy="358.2" r="1.55"/><circle cx="607.97" cy="362.47" r="1.55"/><circle cx="600.19" cy="365.23" r="1.55"/><circle cx="609.73" cy="365.73" r="1.55"/><circle cx="610.99" cy="366.49" r="1.55"/><circle cx="600.94" cy="371.51" r="1.55"/><circle cx="610.99" cy="371.26" r="1.55"/><circle cx="603.95" cy="373.27" r="1.55"/><circle cx="605.96" cy="374.53" r="1.55"/><circle cx="599.68" cy="382.07" r="1.55"/><circle cx="601.44" cy="385.08" r="1.55"/><circle cx="602.2" cy="387.09" r="1.55"/><circle cx="602.95" cy="388.85" r="1.55"/><circle cx="605.96" cy="377.04" r="1.55"/><circle cx="607.22" cy="379.55" r="1.55"/><circle cx="608.48" cy="380.81" r="1.55"/><circle cx="605.46" cy="382.57" r="1.55"/><circle cx="607.97" cy="383.32" r="1.55"/><circle cx="611.74" cy="383.32" r="1.55"/><circle cx="608.48" cy="387.09" r="1.55"/><circle cx="612.25" cy="392.87" r="1.55"/><circle cx="606.47" cy="396.64" r="1.55"/><circle cx="611.74" cy="398.9" r="1.55"/><circle cx="600.94" cy="369.5" r="1.55"/><circle cx="603.95" cy="368.25" r="1.55"/><circle cx="607.22" cy="367.49" r="1.55"/><circle cx="609.73" cy="369" r="1.55"/><circle cx="604.71" cy="405.51" r="1.55"/><circle cx="607.97" cy="406.52" r="1.55"/><circle cx="609.73" cy="406.77" r="1.55"/><circle cx="605.46" cy="421.09" r="1.55"/><circle cx="607.22" cy="421.59" r="1.55"/><circle cx="610.24" cy="422.1" r="1.55"/><circle cx="600.8" cy="384.71" r="1.55"/><circle cx="603.61" cy="377.76" r="1.55"/><circle cx="606.06" cy="377.18" r="1.55"/><circle cx="602.74" cy="379.98" r="1.55"/><circle cx="605.49" cy="372.19" r="1.55"/><circle cx="599.86" cy="372.12" r="1.55"/><circle cx="611.08" cy="376.51" r="1.55"/><circle cx="601.69" cy="379.05" r="1.55"/></g>
<path d="M626.8 303.42L626.8 303.42L626.91 304.42L626.99 305.42L627.07 306.42L627.16 307.42L627.25 308.42L627.34 309.42L627.43 310.42L627.52 311.42L627.59 312.42L627.66 313.42L627.73 314.42L627.8 315.42L627.86 316.42L627.92 317.42L627.97 318.42L627.99 319.42L627.99 320.42L627.96 321.42L627.93 322.42L627.89 323.42L627.85 324.42L627.81 325.42L627.77 326.42L627.73 327.42L627.69 328.42L627.65 329.42L627.62 330.42L627.61 331.42L627.62 332.42L627.65 333.42L627.69 334.42L627.73 335.42L627.78 336.42L627.83 337.42L627.89 338.42L627.95 339.42L628.04 340.42L628.19 341.42L628.42 342.42L628.73 343.42L629.09 344.42L629.48 345.42L629.89 346.42L630.31 347.42L630.79 348.42L631.36 349.42L632.03 350.42L632.79 351.42L633.6 352.42L634.42 353.42L635.25 354.42L636.09 355.42L636.92 356.42L637.75 357.42L638.59 358.42L639.42 359.42L640.25 360.42L641.09 361.42L641.91 362.42L642.71 363.42L643.49 364.42L644.22 365.42L644.92 366.42L645.59 367.42L646.26 368.42L646.92 369.42L647.58 370.42L648.2 371.42L648.79 372.42L649.33 373.42L649.85 374.42L650.33 375.42L650.77 376.42L651.15 377.42L651.47 378.42L651.74 379.42L651.95 380.42L652.08 381.42L652.1 382.42L652 383.42L651.8 384.42L651.53 385.42L651.19 386.42L650.75 387.42L650.21 388.42L649.6 389.42L648.95 390.42L648.28 391.42L647.61 392.42L646.93 393.42L646.24 394.42L645.52 395.42L644.79 396.42L644.02 397.42L643.19 398.42L642.28 399.42L641.25 400.42L640.16 401.42L639.11 402.42L638.2 403.42L637.44 404.42L636.81 405.42L636.26 406.42L635.75 407.42L635.3 408.42L634.89 409.42L634.52 410.42L634.19 411.42L633.9 412.42L633.66 413.42L633.49 414.42L633.35 415.42L633.22 416.42L633.07 417.42L632.88 418.42L632.64 419.42L632.37 420.42L632.07 421.42L631.76 422.42L631.44 423.42L631.1 424.42L630.76 425.42L630.41 426.42L630.06 427.42L629.71 428.42L629.36 429.42L629.02 430.42L628.68 431.42L628.38 432.42L628.12 433.42L627.91 434.42L627.73 435.42L627.58 436.42L627.44 437.42L627.31 438.42L627.21 439.42L627.11 440.42L627.02 441.42L626.95 442.42L626.88 443.42L626.8 443.92L626.8 443.92Z" fill="#7f7f7f" stroke="#242424" stroke-width="1.25" stroke-linejoin="round"/>
<rect x="623" y="371.5" width="7.3" height="21.9" fill="#7f7f7f" stroke="#303030" stroke-width="1.15"/>
<line x1="623" x2="630.3" y1="383.3" y2="383.3" stroke="#303030" stroke-width="2.1"/>
<rect x="378.7" y="293.1" width="287.1" height="232.5" fill="none" stroke="#3c3c3c" stroke-width="1.1"/>
<line x1="376.5" x2="378.7" y1="332.6" y2="332.6" stroke="#333" stroke-width="0.8"/>
<text x="375.5" y="336.7" text-anchor="end" class="tk">1</text>
<line x1="376.5" x2="378.7" y1="377.4" y2="377.4" stroke="#333" stroke-width="0.8"/>
<text x="375.5" y="381.5" text-anchor="end" class="tk">0</text>
<line x1="376.5" x2="378.7" y1="422.1" y2="422.1" stroke="#333" stroke-width="0.8"/>
<text x="375.5" y="426.2" text-anchor="end" class="tk">-1</text>
<line x1="376.5" x2="378.7" y1="466.8" y2="466.8" stroke="#333" stroke-width="0.8"/>
<text x="375.5" y="470.9" text-anchor="end" class="tk">-2</text>
<line x1="376.5" x2="378.7" y1="511.5" y2="511.5" stroke="#333" stroke-width="0.8"/>
<text x="375.5" y="515.6" text-anchor="end" class="tk">-3</text>
<line x1="411.9" x2="411.9" y1="525.6" y2="527.8" stroke="#333" stroke-width="0.8"/>
<text x="411.9" y="536.4" text-anchor="middle" class="cat">HC</text>
<line x1="481.3" x2="481.3" y1="525.6" y2="527.8" stroke="#333" stroke-width="0.8"/>
<text x="481.3" y="536.4" text-anchor="middle" class="cat">SCD</text>
<line x1="550.7" x2="550.7" y1="525.6" y2="527.8" stroke="#333" stroke-width="0.8"/>
<text x="550.7" y="536.4" text-anchor="middle" class="cat">MCI</text>
<line x1="620.2" x2="620.2" y1="525.6" y2="527.8" stroke="#333" stroke-width="0.8"/>
<text x="620.2" y="536.4" text-anchor="middle" class="cat">AD</text>
<text transform="translate(360.4 409.5) rotate(-90)" text-anchor="middle" class="yt">lgjcWMH</text>
<text x="349.2" y="289.9" class="pl">D</text>
</g>
</svg></body></html>
